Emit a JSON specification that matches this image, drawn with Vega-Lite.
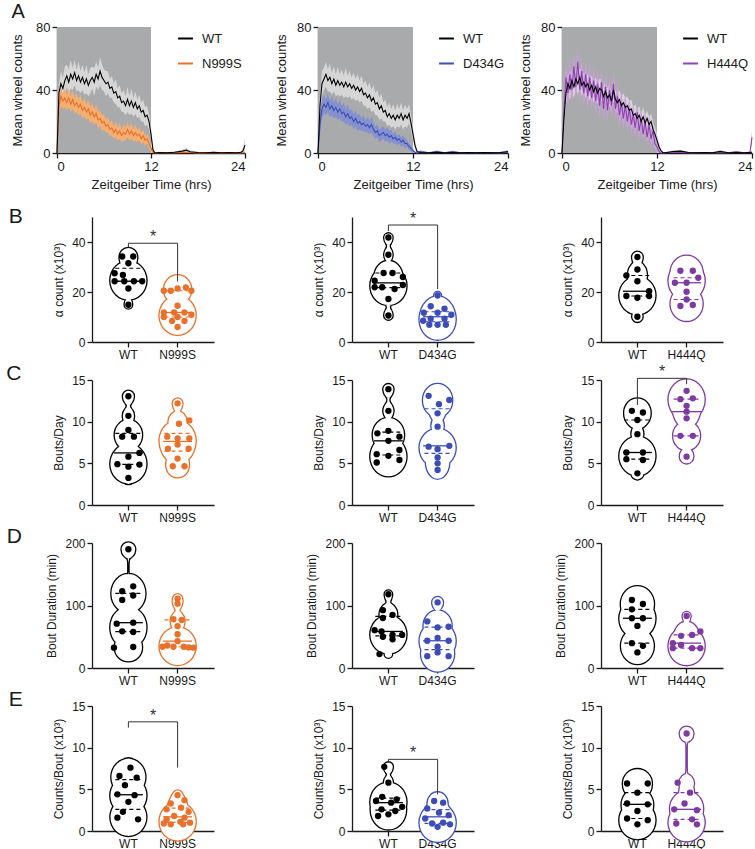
{
"$schema": "https://vega.github.io/schema/vega-lite/v6.json",
"padding": {"left": 6, "top": 2, "right": 0, "bottom": 0},
"config": {
 "font": "Liberation Sans",
 "view": {"stroke": null},
 "axis": {"grid": false, "labelOverlap": false, "domainColor": "#1a1a1a", "tickColor": "#1a1a1a", "labelColor": "#1a1a1a", "titleColor": "#1a1a1a", "domainWidth": 1.3, "tickWidth": 1.3, "tickSize": 5, "labelFontSize": 12, "titleFontSize": 12, "titleFontWeight": "normal", "labelPadding": 2, "titlePadding": 6},
 "axisX": {"labelAngle": 0},
 "title": {"fontSize": 21, "fontWeight": "normal", "color": "#1a1a1a"}
},
"datasets": {
 "ts": [
  {"p":"A1","g":"WT","t":0,"m":0,"e":0},{"p":"A1","g":"WT","t":0.25,"m":38,"e":6},{"p":"A1","g":"WT","t":0.5,"m":44,"e":8},{"p":"A1","g":"WT","t":0.75,"m":41,"e":7},{"p":"A1","g":"WT","t":1,"m":46,"e":9},{"p":"A1","g":"WT","t":1.25,"m":49,"e":7},{"p":"A1","g":"WT","t":1.5,"m":45,"e":8},{"p":"A1","g":"WT","t":1.75,"m":50,"e":9},{"p":"A1","g":"WT","t":2,"m":47,"e":7},{"p":"A1","g":"WT","t":2.25,"m":51,"e":8},{"p":"A1","g":"WT","t":2.5,"m":46,"e":7},{"p":"A1","g":"WT","t":2.75,"m":49,"e":9},{"p":"A1","g":"WT","t":3,"m":45,"e":7},{"p":"A1","g":"WT","t":3.25,"m":48,"e":8},{"p":"A1","g":"WT","t":3.5,"m":44,"e":7},{"p":"A1","g":"WT","t":3.75,"m":47,"e":9},{"p":"A1","g":"WT","t":4,"m":43,"e":7},{"p":"A1","g":"WT","t":4.25,"m":46,"e":8},{"p":"A1","g":"WT","t":4.5,"m":48,"e":7},{"p":"A1","g":"WT","t":4.75,"m":45,"e":9},{"p":"A1","g":"WT","t":5,"m":50,"e":8},{"p":"A1","g":"WT","t":5.25,"m":47,"e":7},{"p":"A1","g":"WT","t":5.5,"m":52,"e":9},{"p":"A1","g":"WT","t":5.75,"m":48,"e":8},{"p":"A1","g":"WT","t":6,"m":46,"e":7},{"p":"A1","g":"WT","t":6.25,"m":44,"e":8},{"p":"A1","g":"WT","t":6.5,"m":45,"e":7},{"p":"A1","g":"WT","t":6.75,"m":41,"e":6},{"p":"A1","g":"WT","t":7,"m":42,"e":7},{"p":"A1","g":"WT","t":7.25,"m":38,"e":6},{"p":"A1","g":"WT","t":7.5,"m":39,"e":8},{"p":"A1","g":"WT","t":7.75,"m":35,"e":6},{"p":"A1","g":"WT","t":8,"m":36,"e":7},{"p":"A1","g":"WT","t":8.25,"m":32,"e":6},{"p":"A1","g":"WT","t":8.5,"m":33,"e":7},{"p":"A1","g":"WT","t":8.75,"m":30,"e":6},{"p":"A1","g":"WT","t":9,"m":34,"e":8},{"p":"A1","g":"WT","t":9.25,"m":30,"e":6},{"p":"A1","g":"WT","t":9.5,"m":33,"e":8},{"p":"A1","g":"WT","t":9.75,"m":29,"e":6},{"p":"A1","g":"WT","t":10,"m":32,"e":7},{"p":"A1","g":"WT","t":10.25,"m":28,"e":6},{"p":"A1","g":"WT","t":10.5,"m":30,"e":7},{"p":"A1","g":"WT","t":10.75,"m":26,"e":6},{"p":"A1","g":"WT","t":11,"m":27,"e":7},{"p":"A1","g":"WT","t":11.25,"m":23,"e":6},{"p":"A1","g":"WT","t":11.5,"m":24,"e":6},{"p":"A1","g":"WT","t":11.75,"m":20,"e":5},{"p":"A1","g":"WT","t":12,"m":12,"e":4},{"p":"A1","g":"WT","t":12.25,"m":2,"e":2},{"p":"A1","g":"WT","t":12.5,"m":0,"e":0.5},{"p":"A1","g":"WT","t":13,"m":0.3,"e":0.5},{"p":"A1","g":"WT","t":14,"m":0.2,"e":0.4},{"p":"A1","g":"WT","t":15,"m":0.5,"e":0.6},{"p":"A1","g":"WT","t":16,"m":1.2,"e":1},{"p":"A1","g":"WT","t":16.5,"m":1.8,"e":1.5},{"p":"A1","g":"WT","t":17,"m":0.8,"e":1},{"p":"A1","g":"WT","t":18,"m":0.3,"e":0.4},{"p":"A1","g":"WT","t":19,"m":0.2,"e":0.3},{"p":"A1","g":"WT","t":20,"m":0.4,"e":0.5},{"p":"A1","g":"WT","t":21,"m":0.2,"e":0.3},{"p":"A1","g":"WT","t":22,"m":0.3,"e":0.4},{"p":"A1","g":"WT","t":23,"m":0.2,"e":0.3},{"p":"A1","g":"WT","t":23.5,"m":0.5,"e":0.6},{"p":"A1","g":"WT","t":23.75,"m":1.5,"e":2},{"p":"A1","g":"WT","t":24,"m":5,"e":5},
  {"p":"A1","g":"N999S","t":0,"m":0,"e":0},{"p":"A1","g":"N999S","t":0.25,"m":30,"e":5},{"p":"A1","g":"N999S","t":0.5,"m":36,"e":6},{"p":"A1","g":"N999S","t":0.75,"m":33,"e":5},{"p":"A1","g":"N999S","t":1,"m":35,"e":6},{"p":"A1","g":"N999S","t":1.25,"m":32,"e":5},{"p":"A1","g":"N999S","t":1.5,"m":35,"e":6},{"p":"A1","g":"N999S","t":1.75,"m":31,"e":5},{"p":"A1","g":"N999S","t":2,"m":34,"e":6},{"p":"A1","g":"N999S","t":2.25,"m":30,"e":5},{"p":"A1","g":"N999S","t":2.5,"m":32,"e":6},{"p":"A1","g":"N999S","t":2.75,"m":29,"e":5},{"p":"A1","g":"N999S","t":3,"m":31,"e":6},{"p":"A1","g":"N999S","t":3.25,"m":27,"e":5},{"p":"A1","g":"N999S","t":3.5,"m":29,"e":6},{"p":"A1","g":"N999S","t":3.75,"m":26,"e":5},{"p":"A1","g":"N999S","t":4,"m":28,"e":6},{"p":"A1","g":"N999S","t":4.25,"m":24,"e":5},{"p":"A1","g":"N999S","t":4.5,"m":26,"e":6},{"p":"A1","g":"N999S","t":4.75,"m":23,"e":5},{"p":"A1","g":"N999S","t":5,"m":25,"e":6},{"p":"A1","g":"N999S","t":5.25,"m":21,"e":5},{"p":"A1","g":"N999S","t":5.5,"m":22,"e":5},{"p":"A1","g":"N999S","t":5.75,"m":19,"e":5},{"p":"A1","g":"N999S","t":6,"m":20,"e":5},{"p":"A1","g":"N999S","t":6.25,"m":17,"e":4},{"p":"A1","g":"N999S","t":6.5,"m":18,"e":5},{"p":"A1","g":"N999S","t":6.75,"m":15,"e":4},{"p":"A1","g":"N999S","t":7,"m":16,"e":5},{"p":"A1","g":"N999S","t":7.25,"m":13,"e":4},{"p":"A1","g":"N999S","t":7.5,"m":15,"e":5},{"p":"A1","g":"N999S","t":7.75,"m":12,"e":4},{"p":"A1","g":"N999S","t":8,"m":14,"e":5},{"p":"A1","g":"N999S","t":8.25,"m":11,"e":4},{"p":"A1","g":"N999S","t":8.5,"m":13,"e":5},{"p":"A1","g":"N999S","t":8.75,"m":12,"e":4},{"p":"A1","g":"N999S","t":9,"m":15,"e":5},{"p":"A1","g":"N999S","t":9.25,"m":12,"e":4},{"p":"A1","g":"N999S","t":9.5,"m":14,"e":5},{"p":"A1","g":"N999S","t":9.75,"m":11,"e":4},{"p":"A1","g":"N999S","t":10,"m":13,"e":5},{"p":"A1","g":"N999S","t":10.25,"m":11,"e":4},{"p":"A1","g":"N999S","t":10.5,"m":12,"e":4},{"p":"A1","g":"N999S","t":10.75,"m":9,"e":4},{"p":"A1","g":"N999S","t":11,"m":11,"e":4},{"p":"A1","g":"N999S","t":11.25,"m":8,"e":3},{"p":"A1","g":"N999S","t":11.5,"m":9,"e":3},{"p":"A1","g":"N999S","t":11.75,"m":6,"e":3},{"p":"A1","g":"N999S","t":12,"m":3,"e":2},{"p":"A1","g":"N999S","t":12.25,"m":0.5,"e":0.5},{"p":"A1","g":"N999S","t":12.5,"m":0,"e":0.3},{"p":"A1","g":"N999S","t":13,"m":0.2,"e":0.3},{"p":"A1","g":"N999S","t":14,"m":0.3,"e":0.3},{"p":"A1","g":"N999S","t":15,"m":0.2,"e":0.3},{"p":"A1","g":"N999S","t":16,"m":0.4,"e":0.5},{"p":"A1","g":"N999S","t":17,"m":0.3,"e":0.4},{"p":"A1","g":"N999S","t":18,"m":0.1,"e":0.2},{"p":"A1","g":"N999S","t":19,"m":0.2,"e":0.2},{"p":"A1","g":"N999S","t":20,"m":0.1,"e":0.2},{"p":"A1","g":"N999S","t":21,"m":0.1,"e":0.2},{"p":"A1","g":"N999S","t":22,"m":0.2,"e":0.2},{"p":"A1","g":"N999S","t":23,"m":0.1,"e":0.2},{"p":"A1","g":"N999S","t":24,"m":0.2,"e":0.3},
  {"p":"A2","g":"WT","t":0,"m":0,"e":0},{"p":"A2","g":"WT","t":0.25,"m":30,"e":6},{"p":"A2","g":"WT","t":0.5,"m":44,"e":8},{"p":"A2","g":"WT","t":0.75,"m":47,"e":7},{"p":"A2","g":"WT","t":1,"m":50,"e":8},{"p":"A2","g":"WT","t":1.25,"m":46,"e":7},{"p":"A2","g":"WT","t":1.5,"m":48,"e":9},{"p":"A2","g":"WT","t":1.75,"m":44,"e":7},{"p":"A2","g":"WT","t":2,"m":47,"e":8},{"p":"A2","g":"WT","t":2.25,"m":43,"e":7},{"p":"A2","g":"WT","t":2.5,"m":46,"e":9},{"p":"A2","g":"WT","t":2.75,"m":43,"e":7},{"p":"A2","g":"WT","t":3,"m":45,"e":8},{"p":"A2","g":"WT","t":3.25,"m":42,"e":7},{"p":"A2","g":"WT","t":3.5,"m":45,"e":9},{"p":"A2","g":"WT","t":3.75,"m":42,"e":7},{"p":"A2","g":"WT","t":4,"m":44,"e":8},{"p":"A2","g":"WT","t":4.25,"m":41,"e":7},{"p":"A2","g":"WT","t":4.5,"m":43,"e":8},{"p":"A2","g":"WT","t":4.75,"m":40,"e":7},{"p":"A2","g":"WT","t":5,"m":42,"e":8},{"p":"A2","g":"WT","t":5.25,"m":39,"e":7},{"p":"A2","g":"WT","t":5.5,"m":41,"e":8},{"p":"A2","g":"WT","t":5.75,"m":37,"e":7},{"p":"A2","g":"WT","t":6,"m":38,"e":8},{"p":"A2","g":"WT","t":6.25,"m":35,"e":7},{"p":"A2","g":"WT","t":6.5,"m":37,"e":8},{"p":"A2","g":"WT","t":6.75,"m":33,"e":7},{"p":"A2","g":"WT","t":7,"m":35,"e":8},{"p":"A2","g":"WT","t":7.25,"m":31,"e":7},{"p":"A2","g":"WT","t":7.5,"m":32,"e":8},{"p":"A2","g":"WT","t":7.75,"m":28,"e":7},{"p":"A2","g":"WT","t":8,"m":30,"e":8},{"p":"A2","g":"WT","t":8.25,"m":26,"e":6},{"p":"A2","g":"WT","t":8.5,"m":27,"e":7},{"p":"A2","g":"WT","t":8.75,"m":23,"e":6},{"p":"A2","g":"WT","t":9,"m":25,"e":7},{"p":"A2","g":"WT","t":9.25,"m":22,"e":6},{"p":"A2","g":"WT","t":9.5,"m":24,"e":7},{"p":"A2","g":"WT","t":9.75,"m":21,"e":6},{"p":"A2","g":"WT","t":10,"m":24,"e":7},{"p":"A2","g":"WT","t":10.25,"m":22,"e":6},{"p":"A2","g":"WT","t":10.5,"m":25,"e":7},{"p":"A2","g":"WT","t":10.75,"m":21,"e":6},{"p":"A2","g":"WT","t":11,"m":24,"e":7},{"p":"A2","g":"WT","t":11.25,"m":22,"e":6},{"p":"A2","g":"WT","t":11.5,"m":25,"e":6},{"p":"A2","g":"WT","t":11.75,"m":19,"e":5},{"p":"A2","g":"WT","t":12,"m":12,"e":4},{"p":"A2","g":"WT","t":12.25,"m":5,"e":3},{"p":"A2","g":"WT","t":12.5,"m":1,"e":1},{"p":"A2","g":"WT","t":13,"m":0.3,"e":0.4},{"p":"A2","g":"WT","t":14,"m":0.2,"e":0.3},{"p":"A2","g":"WT","t":15,"m":0.4,"e":0.4},{"p":"A2","g":"WT","t":16,"m":0.2,"e":0.3},{"p":"A2","g":"WT","t":17,"m":0.3,"e":0.4},{"p":"A2","g":"WT","t":18,"m":0.2,"e":0.3},{"p":"A2","g":"WT","t":19,"m":0.3,"e":0.3},{"p":"A2","g":"WT","t":20,"m":0.2,"e":0.3},{"p":"A2","g":"WT","t":21,"m":0.3,"e":0.3},{"p":"A2","g":"WT","t":22,"m":0.2,"e":0.3},{"p":"A2","g":"WT","t":23,"m":0.3,"e":0.3},{"p":"A2","g":"WT","t":24,"m":1,"e":1},
  {"p":"A2","g":"D434G","t":0,"m":0,"e":0},{"p":"A2","g":"D434G","t":0.25,"m":18,"e":5},{"p":"A2","g":"D434G","t":0.5,"m":28,"e":6},{"p":"A2","g":"D434G","t":0.75,"m":31,"e":6},{"p":"A2","g":"D434G","t":1,"m":29,"e":5},{"p":"A2","g":"D434G","t":1.25,"m":32,"e":6},{"p":"A2","g":"D434G","t":1.5,"m":28,"e":5},{"p":"A2","g":"D434G","t":1.75,"m":30,"e":6},{"p":"A2","g":"D434G","t":2,"m":27,"e":5},{"p":"A2","g":"D434G","t":2.25,"m":29,"e":6},{"p":"A2","g":"D434G","t":2.5,"m":26,"e":5},{"p":"A2","g":"D434G","t":2.75,"m":28,"e":6},{"p":"A2","g":"D434G","t":3,"m":25,"e":5},{"p":"A2","g":"D434G","t":3.25,"m":26,"e":6},{"p":"A2","g":"D434G","t":3.5,"m":23,"e":5},{"p":"A2","g":"D434G","t":3.75,"m":25,"e":6},{"p":"A2","g":"D434G","t":4,"m":22,"e":5},{"p":"A2","g":"D434G","t":4.25,"m":23,"e":5},{"p":"A2","g":"D434G","t":4.5,"m":20,"e":5},{"p":"A2","g":"D434G","t":4.75,"m":22,"e":5},{"p":"A2","g":"D434G","t":5,"m":19,"e":5},{"p":"A2","g":"D434G","t":5.25,"m":20,"e":5},{"p":"A2","g":"D434G","t":5.5,"m":18,"e":4},{"p":"A2","g":"D434G","t":5.75,"m":19,"e":5},{"p":"A2","g":"D434G","t":6,"m":17,"e":4},{"p":"A2","g":"D434G","t":6.25,"m":18,"e":5},{"p":"A2","g":"D434G","t":6.5,"m":16,"e":4},{"p":"A2","g":"D434G","t":6.75,"m":18,"e":5},{"p":"A2","g":"D434G","t":7,"m":15,"e":4},{"p":"A2","g":"D434G","t":7.25,"m":13,"e":4},{"p":"A2","g":"D434G","t":7.5,"m":14,"e":4},{"p":"A2","g":"D434G","t":7.75,"m":11,"e":4},{"p":"A2","g":"D434G","t":8,"m":12,"e":4},{"p":"A2","g":"D434G","t":8.25,"m":13,"e":4},{"p":"A2","g":"D434G","t":8.5,"m":11,"e":4},{"p":"A2","g":"D434G","t":8.75,"m":12,"e":4},{"p":"A2","g":"D434G","t":9,"m":10,"e":4},{"p":"A2","g":"D434G","t":9.25,"m":11,"e":4},{"p":"A2","g":"D434G","t":9.5,"m":9,"e":3},{"p":"A2","g":"D434G","t":9.75,"m":10,"e":4},{"p":"A2","g":"D434G","t":10,"m":8,"e":3},{"p":"A2","g":"D434G","t":10.25,"m":9,"e":3},{"p":"A2","g":"D434G","t":10.5,"m":7,"e":3},{"p":"A2","g":"D434G","t":10.75,"m":8,"e":3},{"p":"A2","g":"D434G","t":11,"m":6,"e":3},{"p":"A2","g":"D434G","t":11.25,"m":6,"e":2},{"p":"A2","g":"D434G","t":11.5,"m":4,"e":2},{"p":"A2","g":"D434G","t":11.75,"m":3,"e":2},{"p":"A2","g":"D434G","t":12,"m":1.5,"e":1},{"p":"A2","g":"D434G","t":12.25,"m":0.5,"e":0.5},{"p":"A2","g":"D434G","t":12.5,"m":0,"e":0.3},{"p":"A2","g":"D434G","t":13,"m":0.8,"e":0.8},{"p":"A2","g":"D434G","t":14,"m":0.2,"e":0.3},{"p":"A2","g":"D434G","t":15,"m":0.8,"e":0.8},{"p":"A2","g":"D434G","t":16,"m":0.2,"e":0.3},{"p":"A2","g":"D434G","t":17,"m":0.7,"e":0.7},{"p":"A2","g":"D434G","t":18,"m":0.2,"e":0.3},{"p":"A2","g":"D434G","t":19,"m":0.2,"e":0.3},{"p":"A2","g":"D434G","t":20,"m":0.3,"e":0.3},{"p":"A2","g":"D434G","t":21,"m":0.2,"e":0.3},{"p":"A2","g":"D434G","t":22,"m":0.3,"e":0.3},{"p":"A2","g":"D434G","t":23,"m":0.2,"e":0.3},{"p":"A2","g":"D434G","t":24,"m":0.3,"e":0.3},
  {"p":"A3","g":"WT","t":0,"m":0,"e":0},{"p":"A3","g":"WT","t":0.25,"m":22,"e":6},{"p":"A3","g":"WT","t":0.5,"m":38,"e":7},{"p":"A3","g":"WT","t":0.75,"m":44,"e":6},{"p":"A3","g":"WT","t":1,"m":41,"e":7},{"p":"A3","g":"WT","t":1.25,"m":46,"e":6},{"p":"A3","g":"WT","t":1.5,"m":42,"e":7},{"p":"A3","g":"WT","t":1.75,"m":47,"e":6},{"p":"A3","g":"WT","t":2,"m":44,"e":7},{"p":"A3","g":"WT","t":2.25,"m":48,"e":6},{"p":"A3","g":"WT","t":2.5,"m":43,"e":7},{"p":"A3","g":"WT","t":2.75,"m":45,"e":6},{"p":"A3","g":"WT","t":3,"m":42,"e":7},{"p":"A3","g":"WT","t":3.25,"m":44,"e":6},{"p":"A3","g":"WT","t":3.5,"m":40,"e":7},{"p":"A3","g":"WT","t":3.75,"m":43,"e":6},{"p":"A3","g":"WT","t":4,"m":39,"e":7},{"p":"A3","g":"WT","t":4.25,"m":42,"e":6},{"p":"A3","g":"WT","t":4.5,"m":38,"e":7},{"p":"A3","g":"WT","t":4.75,"m":41,"e":6},{"p":"A3","g":"WT","t":5,"m":40,"e":7},{"p":"A3","g":"WT","t":5.25,"m":36,"e":6},{"p":"A3","g":"WT","t":5.5,"m":39,"e":7},{"p":"A3","g":"WT","t":5.75,"m":35,"e":6},{"p":"A3","g":"WT","t":6,"m":37,"e":7},{"p":"A3","g":"WT","t":6.25,"m":33,"e":6},{"p":"A3","g":"WT","t":6.5,"m":40,"e":7},{"p":"A3","g":"WT","t":6.75,"m":34,"e":6},{"p":"A3","g":"WT","t":7,"m":32,"e":6},{"p":"A3","g":"WT","t":7.25,"m":34,"e":6},{"p":"A3","g":"WT","t":7.5,"m":30,"e":6},{"p":"A3","g":"WT","t":7.75,"m":32,"e":6},{"p":"A3","g":"WT","t":8,"m":29,"e":6},{"p":"A3","g":"WT","t":8.25,"m":30,"e":6},{"p":"A3","g":"WT","t":8.5,"m":27,"e":6},{"p":"A3","g":"WT","t":8.75,"m":28,"e":6},{"p":"A3","g":"WT","t":9,"m":24,"e":5},{"p":"A3","g":"WT","t":9.25,"m":25,"e":6},{"p":"A3","g":"WT","t":9.5,"m":22,"e":5},{"p":"A3","g":"WT","t":9.75,"m":24,"e":6},{"p":"A3","g":"WT","t":10,"m":20,"e":5},{"p":"A3","g":"WT","t":10.25,"m":23,"e":6},{"p":"A3","g":"WT","t":10.5,"m":19,"e":5},{"p":"A3","g":"WT","t":10.75,"m":22,"e":5},{"p":"A3","g":"WT","t":11,"m":18,"e":5},{"p":"A3","g":"WT","t":11.25,"m":20,"e":5},{"p":"A3","g":"WT","t":11.5,"m":15,"e":5},{"p":"A3","g":"WT","t":11.75,"m":12,"e":4},{"p":"A3","g":"WT","t":12,"m":8,"e":4},{"p":"A3","g":"WT","t":12.25,"m":4,"e":3},{"p":"A3","g":"WT","t":12.5,"m":1.5,"e":1.5},{"p":"A3","g":"WT","t":12.75,"m":0.3,"e":0.5},{"p":"A3","g":"WT","t":13,"m":0.2,"e":0.3},{"p":"A3","g":"WT","t":14,"m":1,"e":0.8},{"p":"A3","g":"WT","t":15,"m":1.2,"e":0.9},{"p":"A3","g":"WT","t":16,"m":0.3,"e":0.3},{"p":"A3","g":"WT","t":17,"m":0.2,"e":0.3},{"p":"A3","g":"WT","t":18,"m":0.3,"e":0.3},{"p":"A3","g":"WT","t":19,"m":0.2,"e":0.3},{"p":"A3","g":"WT","t":20,"m":1,"e":0.8},{"p":"A3","g":"WT","t":21,"m":0.2,"e":0.3},{"p":"A3","g":"WT","t":22,"m":0.3,"e":0.3},{"p":"A3","g":"WT","t":23,"m":0.2,"e":0.3},{"p":"A3","g":"WT","t":24,"m":0.5,"e":0.5},
  {"p":"A3","g":"H444Q","t":0,"m":0,"e":0},{"p":"A3","g":"H444Q","t":0.25,"m":28,"e":8},{"p":"A3","g":"H444Q","t":0.5,"m":48,"e":9},{"p":"A3","g":"H444Q","t":0.75,"m":38,"e":8},{"p":"A3","g":"H444Q","t":1,"m":50,"e":9},{"p":"A3","g":"H444Q","t":1.25,"m":40,"e":8},{"p":"A3","g":"H444Q","t":1.5,"m":55,"e":9},{"p":"A3","g":"H444Q","t":1.75,"m":42,"e":8},{"p":"A3","g":"H444Q","t":2,"m":58,"e":9},{"p":"A3","g":"H444Q","t":2.25,"m":40,"e":8},{"p":"A3","g":"H444Q","t":2.5,"m":52,"e":9},{"p":"A3","g":"H444Q","t":2.75,"m":38,"e":8},{"p":"A3","g":"H444Q","t":3,"m":50,"e":9},{"p":"A3","g":"H444Q","t":3.25,"m":36,"e":8},{"p":"A3","g":"H444Q","t":3.5,"m":48,"e":9},{"p":"A3","g":"H444Q","t":3.75,"m":35,"e":8},{"p":"A3","g":"H444Q","t":4,"m":46,"e":9},{"p":"A3","g":"H444Q","t":4.25,"m":33,"e":8},{"p":"A3","g":"H444Q","t":4.5,"m":44,"e":9},{"p":"A3","g":"H444Q","t":4.75,"m":30,"e":8},{"p":"A3","g":"H444Q","t":5,"m":45,"e":9},{"p":"A3","g":"H444Q","t":5.25,"m":28,"e":8},{"p":"A3","g":"H444Q","t":5.5,"m":42,"e":9},{"p":"A3","g":"H444Q","t":5.75,"m":27,"e":8},{"p":"A3","g":"H444Q","t":6,"m":40,"e":8},{"p":"A3","g":"H444Q","t":6.25,"m":30,"e":8},{"p":"A3","g":"H444Q","t":6.5,"m":44,"e":8},{"p":"A3","g":"H444Q","t":6.75,"m":28,"e":7},{"p":"A3","g":"H444Q","t":7,"m":36,"e":8},{"p":"A3","g":"H444Q","t":7.25,"m":24,"e":7},{"p":"A3","g":"H444Q","t":7.5,"m":32,"e":8},{"p":"A3","g":"H444Q","t":7.75,"m":22,"e":7},{"p":"A3","g":"H444Q","t":8,"m":30,"e":7},{"p":"A3","g":"H444Q","t":8.25,"m":20,"e":7},{"p":"A3","g":"H444Q","t":8.5,"m":28,"e":7},{"p":"A3","g":"H444Q","t":8.75,"m":18,"e":6},{"p":"A3","g":"H444Q","t":9,"m":24,"e":7},{"p":"A3","g":"H444Q","t":9.25,"m":16,"e":6},{"p":"A3","g":"H444Q","t":9.5,"m":26,"e":7},{"p":"A3","g":"H444Q","t":9.75,"m":14,"e":6},{"p":"A3","g":"H444Q","t":10,"m":22,"e":6},{"p":"A3","g":"H444Q","t":10.25,"m":12,"e":5},{"p":"A3","g":"H444Q","t":10.5,"m":20,"e":6},{"p":"A3","g":"H444Q","t":10.75,"m":10,"e":5},{"p":"A3","g":"H444Q","t":11,"m":18,"e":6},{"p":"A3","g":"H444Q","t":11.25,"m":9,"e":5},{"p":"A3","g":"H444Q","t":11.5,"m":14,"e":5},{"p":"A3","g":"H444Q","t":11.75,"m":6,"e":4},{"p":"A3","g":"H444Q","t":12,"m":4,"e":3},{"p":"A3","g":"H444Q","t":12.25,"m":1,"e":1},{"p":"A3","g":"H444Q","t":12.5,"m":0,"e":0.3},{"p":"A3","g":"H444Q","t":13,"m":0.2,"e":0.3},{"p":"A3","g":"H444Q","t":14,"m":0.5,"e":0.5},{"p":"A3","g":"H444Q","t":15,"m":0.3,"e":0.3},{"p":"A3","g":"H444Q","t":16,"m":0.2,"e":0.3},{"p":"A3","g":"H444Q","t":17,"m":0.3,"e":0.3},{"p":"A3","g":"H444Q","t":18,"m":0.2,"e":0.3},{"p":"A3","g":"H444Q","t":19,"m":0.2,"e":0.3},{"p":"A3","g":"H444Q","t":20,"m":0.3,"e":0.3},{"p":"A3","g":"H444Q","t":21,"m":0.2,"e":0.3},{"p":"A3","g":"H444Q","t":22,"m":0.7,"e":0.6},{"p":"A3","g":"H444Q","t":23,"m":0.2,"e":0.3},{"p":"A3","g":"H444Q","t":23.75,"m":0.5,"e":0.5},{"p":"A3","g":"H444Q","t":24,"m":10,"e":4}
 ],
 "vio": [
  {"p":"B1","g":"WT","v":34.2,"j":-0.9},{"p":"B1","g":"WT","v":34.2,"j":0.7},{"p":"B1","g":"WT","v":31.5,"j":0},{"p":"B1","g":"WT","v":27.5,"j":-2},{"p":"B1","g":"WT","v":26.8,"j":-0.8},{"p":"B1","g":"WT","v":24.3,"j":-2},{"p":"B1","g":"WT","v":24.3,"j":-0.6},{"p":"B1","g":"WT","v":24.3,"j":0.8},{"p":"B1","g":"WT","v":24.3,"j":2},{"p":"B1","g":"WT","v":21.4,"j":0},{"p":"B1","g":"WT","v":14.9,"j":0},
  {"p":"B1","g":"N999S","v":21.8,"j":1.2},{"p":"B1","g":"N999S","v":21.4,"j":0},{"p":"B1","g":"N999S","v":20.5,"j":-2},{"p":"B1","g":"N999S","v":20.5,"j":-1},{"p":"B1","g":"N999S","v":20.5,"j":2},{"p":"B1","g":"N999S","v":14.5,"j":0},{"p":"B1","g":"N999S","v":11.8,"j":-2},{"p":"B1","g":"N999S","v":11.8,"j":-0.5},{"p":"B1","g":"N999S","v":11.8,"j":1},{"p":"B1","g":"N999S","v":10.9,"j":2},{"p":"B1","g":"N999S","v":10,"j":-2},{"p":"B1","g":"N999S","v":10,"j":0},{"p":"B1","g":"N999S","v":8.4,"j":-0.8},{"p":"B1","g":"N999S","v":8.4,"j":1},{"p":"B1","g":"N999S","v":6,"j":0},
  {"p":"B2","g":"WT","v":41.8,"j":0},{"p":"B2","g":"WT","v":34.9,"j":0},{"p":"B2","g":"WT","v":27.6,"j":-0.7},{"p":"B2","g":"WT","v":27.6,"j":0.6},{"p":"B2","g":"WT","v":26,"j":2.1},{"p":"B2","g":"WT","v":24.5,"j":-2},{"p":"B2","g":"WT","v":22.8,"j":2.1},{"p":"B2","g":"WT","v":21.9,"j":-2},{"p":"B2","g":"WT","v":21.9,"j":-0.9},{"p":"B2","g":"WT","v":21.2,"j":0.9},{"p":"B2","g":"WT","v":17.2,"j":0},{"p":"B2","g":"WT","v":10.6,"j":0},
  {"p":"B2","g":"D434G","v":18.6,"j":0},{"p":"B2","g":"D434G","v":14.3,"j":-1},{"p":"B2","g":"D434G","v":13.3,"j":1},{"p":"B2","g":"D434G","v":11.7,"j":-2},{"p":"B2","g":"D434G","v":11.7,"j":0},{"p":"B2","g":"D434G","v":10.9,"j":2},{"p":"B2","g":"D434G","v":9.3,"j":-1},{"p":"B2","g":"D434G","v":9.3,"j":1},{"p":"B2","g":"D434G","v":8.5,"j":-2.1},{"p":"B2","g":"D434G","v":6.9,"j":-1.2},{"p":"B2","g":"D434G","v":6.9,"j":0},{"p":"B2","g":"D434G","v":6.9,"j":1.2},
  {"p":"B3","g":"WT","v":34,"j":0},{"p":"B3","g":"WT","v":29,"j":0},{"p":"B3","g":"WT","v":26.6,"j":-1.6},{"p":"B3","g":"WT","v":24.3,"j":0},{"p":"B3","g":"WT","v":20.3,"j":1.7},{"p":"B3","g":"WT","v":18.4,"j":-1.6},{"p":"B3","g":"WT","v":17.7,"j":0},{"p":"B3","g":"WT","v":18.4,"j":1.7},{"p":"B3","g":"WT","v":10.1,"j":0},
  {"p":"B3","g":"H444Q","v":28.5,"j":-0.9},{"p":"B3","g":"H444Q","v":28.5,"j":0.9},{"p":"B3","g":"H444Q","v":25.7,"j":1.7},{"p":"B3","g":"H444Q","v":23.7,"j":-1.7},{"p":"B3","g":"H444Q","v":23.7,"j":0},{"p":"B3","g":"H444Q","v":20.1,"j":0},{"p":"B3","g":"H444Q","v":17,"j":0},{"p":"B3","g":"H444Q","v":14.4,"j":-0.9},{"p":"B3","g":"H444Q","v":14.8,"j":0.9},
  {"p":"C1","g":"WT","v":13.05,"j":0},{"p":"C1","g":"WT","v":10.7,"j":0},{"p":"C1","g":"WT","v":9,"j":0},{"p":"C1","g":"WT","v":8.2,"j":-0.9},{"p":"C1","g":"WT","v":8.2,"j":0.8},{"p":"C1","g":"WT","v":6.25,"j":1.6},{"p":"C1","g":"WT","v":5.8,"j":0},{"p":"C1","g":"WT","v":4.9,"j":-1.6},{"p":"C1","g":"WT","v":4.85,"j":1.6},{"p":"C1","g":"WT","v":4.6,"j":0},{"p":"C1","g":"WT","v":3.25,"j":0},
  {"p":"C1","g":"N999S","v":12.2,"j":0},{"p":"C1","g":"N999S","v":10.15,"j":1.7},{"p":"C1","g":"N999S","v":9.75,"j":0.2},{"p":"C1","g":"N999S","v":8.2,"j":-1.5},{"p":"C1","g":"N999S","v":8,"j":0},{"p":"C1","g":"N999S","v":8,"j":1.7},{"p":"C1","g":"N999S","v":7.25,"j":0},{"p":"C1","g":"N999S","v":6.75,"j":-1.4},{"p":"C1","g":"N999S","v":6.75,"j":1.6},{"p":"C1","g":"N999S","v":5.57,"j":0},{"p":"C1","g":"N999S","v":4.65,"j":-0.7},{"p":"C1","g":"N999S","v":4.65,"j":1},
  {"p":"C2","g":"WT","v":13.9,"j":0},{"p":"C2","g":"WT","v":11.3,"j":0},{"p":"C2","g":"WT","v":8.9,"j":0},{"p":"C2","g":"WT","v":8.6,"j":-1.6},{"p":"C2","g":"WT","v":8.2,"j":1.6},{"p":"C2","g":"WT","v":7.7,"j":0},{"p":"C2","g":"WT","v":6.6,"j":1.6},{"p":"C2","g":"WT","v":6.1,"j":-1.7},{"p":"C2","g":"WT","v":5.9,"j":0},{"p":"C2","g":"WT","v":5.4,"j":1.6},{"p":"C2","g":"WT","v":5.1,"j":-1.7},
  {"p":"C2","g":"D434G","v":13.1,"j":-1.3},{"p":"C2","g":"D434G","v":12.6,"j":1.7},{"p":"C2","g":"D434G","v":12.1,"j":0.2},{"p":"C2","g":"D434G","v":11,"j":0},{"p":"C2","g":"D434G","v":9.4,"j":0},{"p":"C2","g":"D434G","v":7.1,"j":1.7},{"p":"C2","g":"D434G","v":7,"j":-1.3},{"p":"C2","g":"D434G","v":6.7,"j":0},{"p":"C2","g":"D434G","v":5.7,"j":0},{"p":"C2","g":"D434G","v":5,"j":0},{"p":"C2","g":"D434G","v":4.2,"j":0},
  {"p":"C3","g":"WT","v":11.3,"j":-0.8},{"p":"C3","g":"WT","v":11.1,"j":0.8},{"p":"C3","g":"WT","v":10.2,"j":0},{"p":"C3","g":"WT","v":8.5,"j":0},{"p":"C3","g":"WT","v":6.3,"j":-1.6},{"p":"C3","g":"WT","v":6.3,"j":0.8},{"p":"C3","g":"WT","v":5.5,"j":-1.6},{"p":"C3","g":"WT","v":5.4,"j":0.8},{"p":"C3","g":"WT","v":3.8,"j":0},
  {"p":"C3","g":"H444Q","v":13.7,"j":0},{"p":"C3","g":"H444Q","v":12.7,"j":-0.9},{"p":"C3","g":"H444Q","v":12.8,"j":0.9},{"p":"C3","g":"H444Q","v":11.9,"j":0},{"p":"C3","g":"H444Q","v":11.2,"j":0},{"p":"C3","g":"H444Q","v":10.4,"j":0},{"p":"C3","g":"H444Q","v":8.3,"j":-0.9},{"p":"C3","g":"H444Q","v":8.3,"j":0.9},{"p":"C3","g":"H444Q","v":5.8,"j":0},
  {"p":"D1","g":"WT","v":190,"j":0},{"p":"D1","g":"WT","v":130.7,"j":0.7},{"p":"D1","g":"WT","v":123,"j":-0.9},{"p":"D1","g":"WT","v":116,"j":0.7},{"p":"D1","g":"WT","v":109,"j":-0.9},{"p":"D1","g":"WT","v":72.5,"j":0.7},{"p":"D1","g":"WT","v":71,"j":-1.7},{"p":"D1","g":"WT","v":58.7,"j":-0.9},{"p":"D1","g":"WT","v":57.6,"j":0.7},{"p":"D1","g":"WT","v":33.6,"j":0.7},{"p":"D1","g":"WT","v":32.5,"j":-2.1},
  {"p":"D1","g":"N999S","v":111,"j":0},{"p":"D1","g":"N999S","v":103,"j":0},{"p":"D1","g":"N999S","v":78,"j":-0.6},{"p":"D1","g":"N999S","v":77,"j":0.6},{"p":"D1","g":"N999S","v":67,"j":0},{"p":"D1","g":"N999S","v":54,"j":0},{"p":"D1","g":"N999S","v":43,"j":0},{"p":"D1","g":"N999S","v":36,"j":-1.5},{"p":"D1","g":"N999S","v":34,"j":-2.2},{"p":"D1","g":"N999S","v":34,"j":-0.6},{"p":"D1","g":"N999S","v":34,"j":0.9},{"p":"D1","g":"N999S","v":33,"j":1.6},{"p":"D1","g":"N999S","v":32.5,"j":2.3},
  {"p":"D2","g":"WT","v":118,"j":0},{"p":"D2","g":"WT","v":92.5,"j":-0.8},{"p":"D2","g":"WT","v":85,"j":0.6},{"p":"D2","g":"WT","v":80,"j":-0.8},{"p":"D2","g":"WT","v":60.6,"j":-2},{"p":"D2","g":"WT","v":58.5,"j":-1},{"p":"D2","g":"WT","v":53,"j":0.6},{"p":"D2","g":"WT","v":53,"j":2},{"p":"D2","g":"WT","v":50,"j":-0.8},{"p":"D2","g":"WT","v":46,"j":0.6},{"p":"D2","g":"WT","v":22.3,"j":-1.3},
  {"p":"D2","g":"D434G","v":105,"j":0},{"p":"D2","g":"D434G","v":74.5,"j":-1.5},{"p":"D2","g":"D434G","v":66,"j":1.6},{"p":"D2","g":"D434G","v":65,"j":0},{"p":"D2","g":"D434G","v":48,"j":0},{"p":"D2","g":"D434G","v":43.6,"j":-1.5},{"p":"D2","g":"D434G","v":43.6,"j":1.6},{"p":"D2","g":"D434G","v":34,"j":0},{"p":"D2","g":"D434G","v":25,"j":0},{"p":"D2","g":"D434G","v":19,"j":-1.5},{"p":"D2","g":"D434G","v":19,"j":1.6},
  {"p":"D3","g":"WT","v":108.8,"j":-0.8},{"p":"D3","g":"WT","v":102.4,"j":0.8},{"p":"D3","g":"WT","v":93.9,"j":-0.8},{"p":"D3","g":"WT","v":79.6,"j":-0.8},{"p":"D3","g":"WT","v":79.6,"j":0.8},{"p":"D3","g":"WT","v":67.4,"j":0},{"p":"D3","g":"WT","v":39.8,"j":-0.8},{"p":"D3","g":"WT","v":35.5,"j":0.8},{"p":"D3","g":"WT","v":25,"j":0},
  {"p":"D3","g":"H444Q","v":83.3,"j":0},{"p":"D3","g":"H444Q","v":58.4,"j":2},{"p":"D3","g":"H444Q","v":53,"j":0.8},{"p":"D3","g":"H444Q","v":51.5,"j":-0.8},{"p":"D3","g":"H444Q","v":39.8,"j":-2},{"p":"D3","g":"H444Q","v":37,"j":-0.8},{"p":"D3","g":"H444Q","v":31.8,"j":-2},{"p":"D3","g":"H444Q","v":31.8,"j":0.8},{"p":"D3","g":"H444Q","v":31.8,"j":2},
  {"p":"E1","g":"WT","v":7.6,"j":0.3},{"p":"E1","g":"WT","v":6.6,"j":-1.3},{"p":"E1","g":"WT","v":6.4,"j":1.2},{"p":"E1","g":"WT","v":5.5,"j":-0.5},{"p":"E1","g":"WT","v":4.4,"j":-1.6},{"p":"E1","g":"WT","v":4.3,"j":0.9},{"p":"E1","g":"WT","v":3.5,"j":0},{"p":"E1","g":"WT","v":2.3,"j":-0.8},{"p":"E1","g":"WT","v":1.6,"j":-1.6},{"p":"E1","g":"WT","v":1.4,"j":1.4},
  {"p":"E1","g":"N999S","v":4.3,"j":0},{"p":"E1","g":"N999S","v":3.7,"j":1},{"p":"E1","g":"N999S","v":3.3,"j":-1},{"p":"E1","g":"N999S","v":2.8,"j":0.5},{"p":"E1","g":"N999S","v":2.6,"j":-1.6},{"p":"E1","g":"N999S","v":2.3,"j":1.6},{"p":"E1","g":"N999S","v":1.8,"j":-0.5},{"p":"E1","g":"N999S","v":1.6,"j":1},{"p":"E1","g":"N999S","v":1.4,"j":-1.6},{"p":"E1","g":"N999S","v":1.1,"j":0.4},{"p":"E1","g":"N999S","v":1,"j":1.8},{"p":"E1","g":"N999S","v":0.8,"j":-1},{"p":"E1","g":"N999S","v":0.8,"j":0.8},{"p":"E1","g":"N999S","v":0.9,"j":-2},
  {"p":"E2","g":"WT","v":7.7,"j":-0.6},{"p":"E2","g":"WT","v":5.8,"j":0},{"p":"E2","g":"WT","v":4.1,"j":-0.9},{"p":"E2","g":"WT","v":3.8,"j":1.2},{"p":"E2","g":"WT","v":3.6,"j":-1.8},{"p":"E2","g":"WT","v":3.4,"j":0.4},{"p":"E2","g":"WT","v":2.9,"j":2},{"p":"E2","g":"WT","v":2.6,"j":-1},{"p":"E2","g":"WT","v":2.4,"j":1},{"p":"E2","g":"WT","v":2,"j":0},{"p":"E2","g":"WT","v":1.8,"j":-1.5},
  {"p":"E2","g":"D434G","v":3.6,"j":-0.5},{"p":"E2","g":"D434G","v":3.4,"j":0.8},{"p":"E2","g":"D434G","v":2.7,"j":-1.5},{"p":"E2","g":"D434G","v":2.2,"j":0.2},{"p":"E2","g":"D434G","v":1.9,"j":1.6},{"p":"E2","g":"D434G","v":1.5,"j":-1.8},{"p":"E2","g":"D434G","v":1,"j":0.8},{"p":"E2","g":"D434G","v":0.9,"j":-0.8},{"p":"E2","g":"D434G","v":0.8,"j":1.8},{"p":"E2","g":"D434G","v":0.5,"j":0},
  {"p":"E3","g":"WT","v":5.7,"j":-1.5},{"p":"E3","g":"WT","v":5.7,"j":1.5},{"p":"E3","g":"WT","v":4.6,"j":0},{"p":"E3","g":"WT","v":3.3,"j":-1.5},{"p":"E3","g":"WT","v":3.2,"j":1.5},{"p":"E3","g":"WT","v":2.4,"j":0},{"p":"E3","g":"WT","v":1.5,"j":-1.5},{"p":"E3","g":"WT","v":1.3,"j":1.5},{"p":"E3","g":"WT","v":0.8,"j":0},
  {"p":"E3","g":"H444Q","v":11.7,"j":0},{"p":"E3","g":"H444Q","v":5.8,"j":-1.3},{"p":"E3","g":"H444Q","v":4.6,"j":0.5},{"p":"E3","g":"H444Q","v":3.3,"j":-0.3},{"p":"E3","g":"H444Q","v":2.6,"j":-1.8},{"p":"E3","g":"H444Q","v":2.5,"j":1.5},{"p":"E3","g":"H444Q","v":1.4,"j":0.8},{"p":"E3","g":"H444Q","v":0.9,"j":-1.5},{"p":"E3","g":"H444Q","v":0.8,"j":1.5}
 ],
 "br": [
  {"p":"B1","g":"WT","y":37.8,"o":0},{"p":"B1","g":"WT","y":39.5,"o":1},{"p":"B1","g":"N999S","y":39.5,"o":2},{"p":"B1","g":"N999S","y":24.2,"o":3},
  {"p":"B2","g":"WT","y":44.4,"o":0},{"p":"B2","g":"WT","y":46.8,"o":1},{"p":"B2","g":"D434G","y":46.8,"o":2},{"p":"B2","g":"D434G","y":21.2,"o":3},
  {"p":"C3","g":"WT","y":12,"o":0},{"p":"C3","g":"WT","y":15.2,"o":1},{"p":"C3","g":"H444Q","y":15.2,"o":2},{"p":"C3","g":"H444Q","y":14.5,"o":3},
  {"p":"E1","g":"WT","y":12.4,"o":0},{"p":"E1","g":"WT","y":13.1,"o":1},{"p":"E1","g":"N999S","y":13.1,"o":2},{"p":"E1","g":"N999S","y":7.6,"o":3},
  {"p":"E2","g":"WT","y":8.2,"o":0},{"p":"E2","g":"WT","y":8.6,"o":1},{"p":"E2","g":"D434G","y":8.6,"o":2},{"p":"E2","g":"D434G","y":4.4,"o":3}
 ]
},
"concat": [
 {"width": 188, "height": 152,
  "title": {"text": "A", "anchor": "start", "frame": "bounds", "offset": -1, "fontSize": 20},
  "layer": [
   {"data": {"values": [{"s": 0, "e": 12}]}, "mark": {"type": "rect", "color": "#a9aaac"},
    "encoding": {"x": {"field": "s", "type": "quantitative", "title": "Zeitgeiber Time (hrs)", "scale": {"domain": [0, 24], "nice": false}, "axis": {"values": [0,12,24], "labelFontSize": 13, "titleFontSize": 13, "titlePadding": 5, "offset": -26}}, "x2": {"field": "e"},
     "y": {"datum": 80, "type": "quantitative", "title": "Mean wheel counts", "scale": {"domain": [0, 80], "nice": false, "range": [126, 0], "clamp": true}, "axis": {"values": [0,20,40,60,80], "labelFontSize": 13, "titleFontSize": 13, "titlePadding": 11}}, "y2": {"datum": 0}}},
   {"data": {"name": "ts"}, "transform": [{"filter": "datum.p=='A1' && datum.g=='WT'"}], "mark": {"type": "errorband", "color": "#d6d6d6", "opacity": 1},
    "encoding": {"x": {"field": "t", "type": "quantitative", "title": "Zeitgeiber Time (hrs)"}, "y": {"field": "m", "type": "quantitative", "title": "Mean wheel counts"}, "yError": {"field": "e"}}},
   {"data": {"name": "ts"}, "transform": [{"filter": "datum.p=='A1' && datum.g=='N999S'"}], "mark": {"type": "errorband", "color": "#f5ae72", "opacity": 1},
    "encoding": {"x": {"field": "t", "type": "quantitative", "title": "Zeitgeiber Time (hrs)"}, "y": {"field": "m", "type": "quantitative", "title": "Mean wheel counts"}, "yError": {"field": "e"}}},
   {"data": {"name": "ts"}, "transform": [{"filter": "datum.p=='A1' && datum.g=='N999S'"}], "mark": {"type": "line", "strokeWidth": 1.1},
    "encoding": {"x": {"field": "t", "type": "quantitative", "title": "Zeitgeiber Time (hrs)"}, "y": {"field": "m", "type": "quantitative", "title": "Mean wheel counts"}, "color": {"field": "g", "type": "nominal", "scale": {"domain": ["WT","N999S"], "range": ["#000000","#e8712b"]}, "legend": {"orient": "top-right", "title": null, "symbolType": "stroke", "symbolStrokeWidth": 2, "symbolSize": 220, "labelFontSize": 13, "labelColor": "#1a1a1a", "rowPadding": 9, "offset": 3, "padding": 0, "labelOffset": 8}}}},
   {"data": {"name": "ts"}, "transform": [{"filter": "datum.p=='A1' && datum.g=='WT'"}], "mark": {"type": "line", "strokeWidth": 1.1},
    "encoding": {"x": {"field": "t", "type": "quantitative", "title": "Zeitgeiber Time (hrs)"}, "y": {"field": "m", "type": "quantitative", "title": "Mean wheel counts"}, "color": {"field": "g", "type": "nominal", "scale": {"domain": ["WT","N999S"], "range": ["#000000","#e8712b"]}, "legend": {"orient": "top-right", "title": null, "symbolType": "stroke", "symbolStrokeWidth": 2, "symbolSize": 220, "labelFontSize": 13, "labelColor": "#1a1a1a", "rowPadding": 9, "offset": 3, "padding": 0, "labelOffset": 8}}}}
  ]},
 {"width": 209, "height": 152,
  "layer": [
   {"data": {"values": [{"s": 0, "e": 12}]}, "mark": {"type": "rect", "color": "#a9aaac"},
    "encoding": {"x": {"field": "s", "type": "quantitative", "title": "Zeitgeiber Time (hrs)", "scale": {"domain": [0, 24], "nice": false, "range": [19, 209]}, "axis": {"values": [0,12,24], "labelFontSize": 13, "titleFontSize": 13, "titlePadding": 5, "offset": -26}}, "x2": {"field": "e"},
     "y": {"datum": 80, "type": "quantitative", "title": "Mean wheel counts", "scale": {"domain": [0, 80], "nice": false, "range": [126, 0], "clamp": true}, "axis": {"values": [0,20,40,60,80], "labelFontSize": 13, "titleFontSize": 13, "titlePadding": 8, "offset": -19}}, "y2": {"datum": 0}}},
   {"data": {"name": "ts"}, "transform": [{"filter": "datum.p=='A2' && datum.g=='WT'"}], "mark": {"type": "errorband", "color": "#d6d6d6", "opacity": 1},
    "encoding": {"x": {"field": "t", "type": "quantitative", "title": "Zeitgeiber Time (hrs)"}, "y": {"field": "m", "type": "quantitative", "title": "Mean wheel counts"}, "yError": {"field": "e"}}},
   {"data": {"name": "ts"}, "transform": [{"filter": "datum.p=='A2' && datum.g=='D434G'"}], "mark": {"type": "errorband", "color": "#8590cf", "opacity": 1},
    "encoding": {"x": {"field": "t", "type": "quantitative", "title": "Zeitgeiber Time (hrs)"}, "y": {"field": "m", "type": "quantitative", "title": "Mean wheel counts"}, "yError": {"field": "e"}}},
   {"data": {"name": "ts"}, "transform": [{"filter": "datum.p=='A2' && datum.g=='D434G'"}], "mark": {"type": "line", "strokeWidth": 1.1},
    "encoding": {"x": {"field": "t", "type": "quantitative", "title": "Zeitgeiber Time (hrs)"}, "y": {"field": "m", "type": "quantitative", "title": "Mean wheel counts"}, "color": {"field": "g", "type": "nominal", "scale": {"domain": ["WT","D434G"], "range": ["#000000","#3d4db7"]}, "legend": {"orient": "top-right", "title": null, "symbolType": "stroke", "symbolStrokeWidth": 2, "symbolSize": 220, "labelFontSize": 13, "labelColor": "#1a1a1a", "rowPadding": 9, "offset": 3, "padding": 0, "labelOffset": 8}}}},
   {"data": {"name": "ts"}, "transform": [{"filter": "datum.p=='A2' && datum.g=='WT'"}], "mark": {"type": "line", "strokeWidth": 1.1},
    "encoding": {"x": {"field": "t", "type": "quantitative", "title": "Zeitgeiber Time (hrs)"}, "y": {"field": "m", "type": "quantitative", "title": "Mean wheel counts"}, "color": {"field": "g", "type": "nominal", "scale": {"domain": ["WT","D434G"], "range": ["#000000","#3d4db7"]}, "legend": {"orient": "top-right", "title": null, "symbolType": "stroke", "symbolStrokeWidth": 2, "symbolSize": 220, "labelFontSize": 13, "labelColor": "#1a1a1a", "rowPadding": 9, "offset": 3, "padding": 0, "labelOffset": 8}}}}
  ]},
 {"width": 190, "height": 152,
  "layer": [
   {"data": {"values": [{"s": 0, "e": 12}]}, "mark": {"type": "rect", "color": "#a9aaac"},
    "encoding": {"x": {"field": "s", "type": "quantitative", "title": "Zeitgeiber Time (hrs)", "scale": {"domain": [0, 24], "nice": false}, "axis": {"values": [0,12,24], "labelFontSize": 13, "titleFontSize": 13, "titlePadding": 5, "offset": -26}}, "x2": {"field": "e"},
     "y": {"datum": 80, "type": "quantitative", "title": "Mean wheel counts", "scale": {"domain": [0, 80], "nice": false, "range": [126, 0], "clamp": true}, "axis": {"values": [0,20,40,60,80], "labelFontSize": 13, "titleFontSize": 13, "titlePadding": 8}}, "y2": {"datum": 0}}},
   {"data": {"name": "ts"}, "transform": [{"filter": "datum.p=='A3' && datum.g=='WT'"}], "mark": {"type": "errorband", "color": "#d6d6d6", "opacity": 1},
    "encoding": {"x": {"field": "t", "type": "quantitative", "title": "Zeitgeiber Time (hrs)"}, "y": {"field": "m", "type": "quantitative", "title": "Mean wheel counts"}, "yError": {"field": "e"}}},
   {"data": {"name": "ts"}, "transform": [{"filter": "datum.p=='A3' && datum.g=='H444Q'"}], "mark": {"type": "errorband", "color": "#c99ed9", "opacity": 1},
    "encoding": {"x": {"field": "t", "type": "quantitative", "title": "Zeitgeiber Time (hrs)"}, "y": {"field": "m", "type": "quantitative", "title": "Mean wheel counts"}, "yError": {"field": "e"}}},
   {"data": {"name": "ts"}, "transform": [{"filter": "datum.p=='A3' && datum.g=='H444Q'"}], "mark": {"type": "line", "strokeWidth": 1.1},
    "encoding": {"x": {"field": "t", "type": "quantitative", "title": "Zeitgeiber Time (hrs)"}, "y": {"field": "m", "type": "quantitative", "title": "Mean wheel counts"}, "color": {"field": "g", "type": "nominal", "scale": {"domain": ["WT","H444Q"], "range": ["#000000","#8e44ad"]}, "legend": {"orient": "top-right", "title": null, "symbolType": "stroke", "symbolStrokeWidth": 2, "symbolSize": 220, "labelFontSize": 13, "labelColor": "#1a1a1a", "rowPadding": 9, "offset": 3, "padding": 0, "labelOffset": 8}}}},
   {"data": {"name": "ts"}, "transform": [{"filter": "datum.p=='A3' && datum.g=='WT'"}], "mark": {"type": "line", "strokeWidth": 1.1},
    "encoding": {"x": {"field": "t", "type": "quantitative", "title": "Zeitgeiber Time (hrs)"}, "y": {"field": "m", "type": "quantitative", "title": "Mean wheel counts"}, "color": {"field": "g", "type": "nominal", "scale": {"domain": ["WT","H444Q"], "range": ["#000000","#8e44ad"]}, "legend": {"orient": "top-right", "title": null, "symbolType": "stroke", "symbolStrokeWidth": 2, "symbolSize": 220, "labelFontSize": 13, "labelColor": "#1a1a1a", "rowPadding": 9, "offset": 3, "padding": 0, "labelOffset": 8}}}}
  ]},
 {"width": 188, "height": 125,
  "title": {"text": "B", "orient": "left", "anchor": "end", "angle": 0, "baseline": "middle", "align": "right", "offset": 16},
  "data": {"name": "vio"},
  "encoding": {"x": {"field": "g", "type": "nominal", "title": null, "scale": {"type": "band", "domain": ["WT","N999S"], "range": [35, 157], "paddingInner": 0.3, "paddingOuter": 0.39}, "axis": {"labelAngle": 0}}},
  "layer": [
   {"transform": [{"filter": "datum.p=='B1' && datum.g=='WT'"}, {"density": "v", "groupby": ["g"], "bandwidth": 1.8, "as": ["v","d"]}], "mark": {"type": "trail", "opacity": 1},
    "encoding": {"y": {"field": "v", "type": "quantitative", "title": "α count (x10³)", "scale": {"domain": [0,50], "nice": false}, "axis": {"values": [0,10,20,30,40,50], "offset": -35}}, "size": {"field": "d", "type": "quantitative", "scale": {"zero": true, "range": [2.6,38.6]}, "legend": null}, "color": {"field": "g", "type": "nominal", "scale": {"domain": ["WT","N999S"], "range": ["#000000","#e8712b"]}, "legend": null}, "order": {"field": "v", "type": "quantitative"}}},
   {"transform": [{"filter": "datum.p=='B1' && datum.g=='WT'"}, {"density": "v", "groupby": ["g"], "bandwidth": 1.8, "as": ["v","d"]}], "mark": {"type": "trail", "color": "#ffffff", "opacity": 1},
    "encoding": {"y": {"field": "v", "type": "quantitative", "title": "α count (x10³)"}, "size": {"field": "d", "type": "quantitative", "scale": {"zero": true, "range": [0,36]}, "legend": null}, "order": {"field": "v", "type": "quantitative"}}},
   {"transform": [{"filter": "datum.p=='B1' && datum.g=='N999S'"}, {"density": "v", "groupby": ["g"], "bandwidth": 1.8, "as": ["v","d"]}], "mark": {"type": "trail", "opacity": 1},
    "encoding": {"y": {"field": "v", "type": "quantitative", "title": "α count (x10³)"}, "size": {"field": "d", "type": "quantitative", "scale": {"zero": true, "range": [2.6,38.6]}, "legend": null}, "color": {"field": "g", "type": "nominal", "legend": null}, "order": {"field": "v", "type": "quantitative"}}},
   {"transform": [{"filter": "datum.p=='B1' && datum.g=='N999S'"}, {"density": "v", "groupby": ["g"], "bandwidth": 1.8, "as": ["v","d"]}], "mark": {"type": "trail", "color": "#ffffff", "opacity": 1},
    "encoding": {"y": {"field": "v", "type": "quantitative", "title": "α count (x10³)"}, "size": {"field": "d", "type": "quantitative", "scale": {"zero": true, "range": [0,36]}, "legend": null}, "order": {"field": "v", "type": "quantitative"}}},
   {"transform": [{"filter": "datum.p=='B1'"}, {"aggregate": [{"op": "q1", "field": "v", "as": "a"}, {"op": "q3", "field": "v", "as": "b"}], "groupby": ["g"]}, {"fold": ["a","b"], "as": ["k","v"]}], "mark": {"type": "rule", "strokeWidth": 1.2, "strokeDash": [4,3]},
    "encoding": {"x": {"field": "g", "type": "nominal", "title": null, "bandPosition": 0.12}, "x2": {"field": "g", "bandPosition": 0.88}, "y": {"field": "v", "type": "quantitative", "title": "α count (x10³)"}, "color": {"field": "g", "type": "nominal", "legend": null}}},
   {"transform": [{"filter": "datum.p=='B1'"}, {"aggregate": [{"op": "median", "field": "v", "as": "v"}], "groupby": ["g"]}], "mark": {"type": "rule", "strokeWidth": 1.3},
    "encoding": {"x": {"field": "g", "type": "nominal", "title": null, "bandPosition": 0.08}, "x2": {"field": "g", "bandPosition": 0.92}, "y": {"field": "v", "type": "quantitative", "title": "α count (x10³)"}, "color": {"field": "g", "type": "nominal", "legend": null}}},
   {"transform": [{"filter": "datum.p=='B1'"}], "mark": {"type": "circle", "size": 40, "opacity": 1},
    "encoding": {"y": {"field": "v", "type": "quantitative", "title": "α count (x10³)"}, "xOffset": {"field": "j", "type": "quantitative", "scale": {"domain": [-2.5,2.5], "nice": false, "zero": false}}, "color": {"field": "g", "type": "nominal", "legend": null}}},
   {"data": {"name": "br"}, "transform": [{"filter": "datum.p=='B1'"}], "mark": {"type": "line", "color": "#333333", "strokeWidth": 1},
    "encoding": {"y": {"field": "y", "type": "quantitative", "title": "α count (x10³)"}, "order": {"field": "o", "type": "quantitative"}}},
   {"data": {"name": "br"}, "transform": [{"filter": "datum.p=='B1' && datum.o==1"}], "mark": {"type": "text", "text": "*", "fontSize": 16, "dx": 24.6, "dy": -1, "baseline": "alphabetic", "color": "#333333"},
    "encoding": {"y": {"field": "y", "type": "quantitative", "title": "α count (x10³)"}}}
  ],
  "resolve": {"scale": {"size": "independent"}}},
 {"width": 209, "height": 125,
  "data": {"name": "vio"},
  "encoding": {"x": {"field": "g", "type": "nominal", "title": null, "scale": {"type": "band", "domain": ["WT","D434G"], "range": [53, 175], "paddingInner": 0.3, "paddingOuter": 0.39}, "axis": {"labelAngle": 0}}},
  "layer": [
   {"transform": [{"filter": "datum.p=='B2' && datum.g=='WT'"}, {"density": "v", "groupby": ["g"], "bandwidth": 1.8, "as": ["v","d"]}], "mark": {"type": "trail", "opacity": 1},
    "encoding": {"y": {"field": "v", "type": "quantitative", "title": "α count (x10³)", "scale": {"domain": [0,50], "nice": false}, "axis": {"values": [0,10,20,30,40,50], "offset": -53}}, "size": {"field": "d", "type": "quantitative", "scale": {"zero": true, "range": [2.6,38.6]}, "legend": null}, "color": {"field": "g", "type": "nominal", "scale": {"domain": ["WT","D434G"], "range": ["#000000","#3d4db7"]}, "legend": null}, "order": {"field": "v", "type": "quantitative"}}},
   {"transform": [{"filter": "datum.p=='B2' && datum.g=='WT'"}, {"density": "v", "groupby": ["g"], "bandwidth": 1.8, "as": ["v","d"]}], "mark": {"type": "trail", "color": "#ffffff", "opacity": 1},
    "encoding": {"y": {"field": "v", "type": "quantitative", "title": "α count (x10³)"}, "size": {"field": "d", "type": "quantitative", "scale": {"zero": true, "range": [0,36]}, "legend": null}, "order": {"field": "v", "type": "quantitative"}}},
   {"transform": [{"filter": "datum.p=='B2' && datum.g=='D434G'"}, {"density": "v", "groupby": ["g"], "bandwidth": 1.8, "as": ["v","d"]}], "mark": {"type": "trail", "opacity": 1},
    "encoding": {"y": {"field": "v", "type": "quantitative", "title": "α count (x10³)"}, "size": {"field": "d", "type": "quantitative", "scale": {"zero": true, "range": [2.6,38.6]}, "legend": null}, "color": {"field": "g", "type": "nominal", "legend": null}, "order": {"field": "v", "type": "quantitative"}}},
   {"transform": [{"filter": "datum.p=='B2' && datum.g=='D434G'"}, {"density": "v", "groupby": ["g"], "bandwidth": 1.8, "as": ["v","d"]}], "mark": {"type": "trail", "color": "#ffffff", "opacity": 1},
    "encoding": {"y": {"field": "v", "type": "quantitative", "title": "α count (x10³)"}, "size": {"field": "d", "type": "quantitative", "scale": {"zero": true, "range": [0,36]}, "legend": null}, "order": {"field": "v", "type": "quantitative"}}},
   {"transform": [{"filter": "datum.p=='B2'"}, {"aggregate": [{"op": "q1", "field": "v", "as": "a"}, {"op": "q3", "field": "v", "as": "b"}], "groupby": ["g"]}, {"fold": ["a","b"], "as": ["k","v"]}], "mark": {"type": "rule", "strokeWidth": 1.2, "strokeDash": [4,3]},
    "encoding": {"x": {"field": "g", "type": "nominal", "title": null, "bandPosition": 0.12}, "x2": {"field": "g", "bandPosition": 0.88}, "y": {"field": "v", "type": "quantitative", "title": "α count (x10³)"}, "color": {"field": "g", "type": "nominal", "legend": null}}},
   {"transform": [{"filter": "datum.p=='B2'"}, {"aggregate": [{"op": "median", "field": "v", "as": "v"}], "groupby": ["g"]}], "mark": {"type": "rule", "strokeWidth": 1.3},
    "encoding": {"x": {"field": "g", "type": "nominal", "title": null, "bandPosition": 0.08}, "x2": {"field": "g", "bandPosition": 0.92}, "y": {"field": "v", "type": "quantitative", "title": "α count (x10³)"}, "color": {"field": "g", "type": "nominal", "legend": null}}},
   {"transform": [{"filter": "datum.p=='B2'"}], "mark": {"type": "circle", "size": 40, "opacity": 1},
    "encoding": {"y": {"field": "v", "type": "quantitative", "title": "α count (x10³)"}, "xOffset": {"field": "j", "type": "quantitative", "scale": {"domain": [-2.5,2.5], "nice": false, "zero": false}}, "color": {"field": "g", "type": "nominal", "legend": null}}},
   {"data": {"name": "br"}, "transform": [{"filter": "datum.p=='B2'"}], "mark": {"type": "line", "color": "#333333", "strokeWidth": 1},
    "encoding": {"y": {"field": "y", "type": "quantitative", "title": "α count (x10³)"}, "order": {"field": "o", "type": "quantitative"}}},
   {"data": {"name": "br"}, "transform": [{"filter": "datum.p=='B2' && datum.o==1"}], "mark": {"type": "text", "text": "*", "fontSize": 16, "dx": 24.6, "dy": -1, "baseline": "alphabetic", "color": "#333333"},
    "encoding": {"y": {"field": "y", "type": "quantitative", "title": "α count (x10³)"}}}
  ],
  "resolve": {"scale": {"size": "independent"}}},
 {"width": 190, "height": 125,
  "data": {"name": "vio"},
  "encoding": {"x": {"field": "g", "type": "nominal", "title": null, "scale": {"type": "band", "domain": ["WT","H444Q"], "range": [39, 161], "paddingInner": 0.3, "paddingOuter": 0.39}, "axis": {"labelAngle": 0}}},
  "layer": [
   {"transform": [{"filter": "datum.p=='B3' && datum.g=='WT'"}, {"density": "v", "groupby": ["g"], "bandwidth": 1.8, "as": ["v","d"]}], "mark": {"type": "trail", "opacity": 1},
    "encoding": {"y": {"field": "v", "type": "quantitative", "title": "α count (x10³)", "scale": {"domain": [0,50], "nice": false}, "axis": {"values": [0,10,20,30,40,50], "offset": -39}}, "size": {"field": "d", "type": "quantitative", "scale": {"zero": true, "range": [2.6,38.6]}, "legend": null}, "color": {"field": "g", "type": "nominal", "scale": {"domain": ["WT","H444Q"], "range": ["#000000","#7e3a9e"]}, "legend": null}, "order": {"field": "v", "type": "quantitative"}}},
   {"transform": [{"filter": "datum.p=='B3' && datum.g=='WT'"}, {"density": "v", "groupby": ["g"], "bandwidth": 1.8, "as": ["v","d"]}], "mark": {"type": "trail", "color": "#ffffff", "opacity": 1},
    "encoding": {"y": {"field": "v", "type": "quantitative", "title": "α count (x10³)"}, "size": {"field": "d", "type": "quantitative", "scale": {"zero": true, "range": [0,36]}, "legend": null}, "order": {"field": "v", "type": "quantitative"}}},
   {"transform": [{"filter": "datum.p=='B3' && datum.g=='H444Q'"}, {"density": "v", "groupby": ["g"], "bandwidth": 1.8, "as": ["v","d"]}], "mark": {"type": "trail", "opacity": 1},
    "encoding": {"y": {"field": "v", "type": "quantitative", "title": "α count (x10³)"}, "size": {"field": "d", "type": "quantitative", "scale": {"zero": true, "range": [2.6,38.6]}, "legend": null}, "color": {"field": "g", "type": "nominal", "legend": null}, "order": {"field": "v", "type": "quantitative"}}},
   {"transform": [{"filter": "datum.p=='B3' && datum.g=='H444Q'"}, {"density": "v", "groupby": ["g"], "bandwidth": 1.8, "as": ["v","d"]}], "mark": {"type": "trail", "color": "#ffffff", "opacity": 1},
    "encoding": {"y": {"field": "v", "type": "quantitative", "title": "α count (x10³)"}, "size": {"field": "d", "type": "quantitative", "scale": {"zero": true, "range": [0,36]}, "legend": null}, "order": {"field": "v", "type": "quantitative"}}},
   {"transform": [{"filter": "datum.p=='B3'"}, {"aggregate": [{"op": "q1", "field": "v", "as": "a"}, {"op": "q3", "field": "v", "as": "b"}], "groupby": ["g"]}, {"fold": ["a","b"], "as": ["k","v"]}], "mark": {"type": "rule", "strokeWidth": 1.2, "strokeDash": [4,3]},
    "encoding": {"x": {"field": "g", "type": "nominal", "title": null, "bandPosition": 0.12}, "x2": {"field": "g", "bandPosition": 0.88}, "y": {"field": "v", "type": "quantitative", "title": "α count (x10³)"}, "color": {"field": "g", "type": "nominal", "legend": null}}},
   {"transform": [{"filter": "datum.p=='B3'"}, {"aggregate": [{"op": "median", "field": "v", "as": "v"}], "groupby": ["g"]}], "mark": {"type": "rule", "strokeWidth": 1.3},
    "encoding": {"x": {"field": "g", "type": "nominal", "title": null, "bandPosition": 0.08}, "x2": {"field": "g", "bandPosition": 0.92}, "y": {"field": "v", "type": "quantitative", "title": "α count (x10³)"}, "color": {"field": "g", "type": "nominal", "legend": null}}},
   {"transform": [{"filter": "datum.p=='B3'"}], "mark": {"type": "circle", "size": 40, "opacity": 1},
    "encoding": {"y": {"field": "v", "type": "quantitative", "title": "α count (x10³)"}, "xOffset": {"field": "j", "type": "quantitative", "scale": {"domain": [-2.5,2.5], "nice": false, "zero": false}}, "color": {"field": "g", "type": "nominal", "legend": null}}}
  ],
  "resolve": {"scale": {"size": "independent"}}},
 {"width": 188, "height": 125,
  "title": {"text": "C", "orient": "left", "anchor": "end", "angle": 0, "baseline": "middle", "align": "right", "offset": 16},
  "data": {"name": "vio"},
  "encoding": {"x": {"field": "g", "type": "nominal", "title": null, "scale": {"type": "band", "domain": ["WT","N999S"], "range": [35, 157], "paddingInner": 0.3, "paddingOuter": 0.39}, "axis": {"labelAngle": 0}}},
  "layer": [
   {"transform": [{"filter": "datum.p=='C1' && datum.g=='WT'"}, {"density": "v", "groupby": ["g"], "bandwidth": 0.6, "as": ["v","d"]}], "mark": {"type": "trail", "opacity": 1},
    "encoding": {"y": {"field": "v", "type": "quantitative", "title": "Bouts/Day", "scale": {"domain": [0,15], "nice": false}, "axis": {"values": [0,5,10,15], "offset": -35}}, "size": {"field": "d", "type": "quantitative", "scale": {"zero": true, "range": [2.6,38.6]}, "legend": null}, "color": {"field": "g", "type": "nominal", "scale": {"domain": ["WT","N999S"], "range": ["#000000","#e8712b"]}, "legend": null}, "order": {"field": "v", "type": "quantitative"}}},
   {"transform": [{"filter": "datum.p=='C1' && datum.g=='WT'"}, {"density": "v", "groupby": ["g"], "bandwidth": 0.6, "as": ["v","d"]}], "mark": {"type": "trail", "color": "#ffffff", "opacity": 1},
    "encoding": {"y": {"field": "v", "type": "quantitative", "title": "Bouts/Day"}, "size": {"field": "d", "type": "quantitative", "scale": {"zero": true, "range": [0,36]}, "legend": null}, "order": {"field": "v", "type": "quantitative"}}},
   {"transform": [{"filter": "datum.p=='C1' && datum.g=='N999S'"}, {"density": "v", "groupby": ["g"], "bandwidth": 0.6, "as": ["v","d"]}], "mark": {"type": "trail", "opacity": 1},
    "encoding": {"y": {"field": "v", "type": "quantitative", "title": "Bouts/Day"}, "size": {"field": "d", "type": "quantitative", "scale": {"zero": true, "range": [2.6,38.6]}, "legend": null}, "color": {"field": "g", "type": "nominal", "legend": null}, "order": {"field": "v", "type": "quantitative"}}},
   {"transform": [{"filter": "datum.p=='C1' && datum.g=='N999S'"}, {"density": "v", "groupby": ["g"], "bandwidth": 0.6, "as": ["v","d"]}], "mark": {"type": "trail", "color": "#ffffff", "opacity": 1},
    "encoding": {"y": {"field": "v", "type": "quantitative", "title": "Bouts/Day"}, "size": {"field": "d", "type": "quantitative", "scale": {"zero": true, "range": [0,36]}, "legend": null}, "order": {"field": "v", "type": "quantitative"}}},
   {"transform": [{"filter": "datum.p=='C1'"}, {"aggregate": [{"op": "q1", "field": "v", "as": "a"}, {"op": "q3", "field": "v", "as": "b"}], "groupby": ["g"]}, {"fold": ["a","b"], "as": ["k","v"]}], "mark": {"type": "rule", "strokeWidth": 1.2, "strokeDash": [4,3]},
    "encoding": {"x": {"field": "g", "type": "nominal", "title": null, "bandPosition": 0.12}, "x2": {"field": "g", "bandPosition": 0.88}, "y": {"field": "v", "type": "quantitative", "title": "Bouts/Day"}, "color": {"field": "g", "type": "nominal", "legend": null}}},
   {"transform": [{"filter": "datum.p=='C1'"}, {"aggregate": [{"op": "median", "field": "v", "as": "v"}], "groupby": ["g"]}], "mark": {"type": "rule", "strokeWidth": 1.3},
    "encoding": {"x": {"field": "g", "type": "nominal", "title": null, "bandPosition": 0.08}, "x2": {"field": "g", "bandPosition": 0.92}, "y": {"field": "v", "type": "quantitative", "title": "Bouts/Day"}, "color": {"field": "g", "type": "nominal", "legend": null}}},
   {"transform": [{"filter": "datum.p=='C1'"}], "mark": {"type": "circle", "size": 40, "opacity": 1},
    "encoding": {"y": {"field": "v", "type": "quantitative", "title": "Bouts/Day"}, "xOffset": {"field": "j", "type": "quantitative", "scale": {"domain": [-2.5,2.5], "nice": false, "zero": false}}, "color": {"field": "g", "type": "nominal", "legend": null}}}
  ],
  "resolve": {"scale": {"size": "independent"}}},
 {"width": 209, "height": 125,
  "data": {"name": "vio"},
  "encoding": {"x": {"field": "g", "type": "nominal", "title": null, "scale": {"type": "band", "domain": ["WT","D434G"], "range": [53, 175], "paddingInner": 0.3, "paddingOuter": 0.39}, "axis": {"labelAngle": 0}}},
  "layer": [
   {"transform": [{"filter": "datum.p=='C2' && datum.g=='WT'"}, {"density": "v", "groupby": ["g"], "bandwidth": 0.6, "as": ["v","d"]}], "mark": {"type": "trail", "opacity": 1},
    "encoding": {"y": {"field": "v", "type": "quantitative", "title": "Bouts/Day", "scale": {"domain": [0,15], "nice": false}, "axis": {"values": [0,5,10,15], "offset": -53}}, "size": {"field": "d", "type": "quantitative", "scale": {"zero": true, "range": [2.6,38.6]}, "legend": null}, "color": {"field": "g", "type": "nominal", "scale": {"domain": ["WT","D434G"], "range": ["#000000","#3d4db7"]}, "legend": null}, "order": {"field": "v", "type": "quantitative"}}},
   {"transform": [{"filter": "datum.p=='C2' && datum.g=='WT'"}, {"density": "v", "groupby": ["g"], "bandwidth": 0.6, "as": ["v","d"]}], "mark": {"type": "trail", "color": "#ffffff", "opacity": 1},
    "encoding": {"y": {"field": "v", "type": "quantitative", "title": "Bouts/Day"}, "size": {"field": "d", "type": "quantitative", "scale": {"zero": true, "range": [0,36]}, "legend": null}, "order": {"field": "v", "type": "quantitative"}}},
   {"transform": [{"filter": "datum.p=='C2' && datum.g=='D434G'"}, {"density": "v", "groupby": ["g"], "bandwidth": 0.6, "as": ["v","d"]}], "mark": {"type": "trail", "opacity": 1},
    "encoding": {"y": {"field": "v", "type": "quantitative", "title": "Bouts/Day"}, "size": {"field": "d", "type": "quantitative", "scale": {"zero": true, "range": [2.6,38.6]}, "legend": null}, "color": {"field": "g", "type": "nominal", "legend": null}, "order": {"field": "v", "type": "quantitative"}}},
   {"transform": [{"filter": "datum.p=='C2' && datum.g=='D434G'"}, {"density": "v", "groupby": ["g"], "bandwidth": 0.6, "as": ["v","d"]}], "mark": {"type": "trail", "color": "#ffffff", "opacity": 1},
    "encoding": {"y": {"field": "v", "type": "quantitative", "title": "Bouts/Day"}, "size": {"field": "d", "type": "quantitative", "scale": {"zero": true, "range": [0,36]}, "legend": null}, "order": {"field": "v", "type": "quantitative"}}},
   {"transform": [{"filter": "datum.p=='C2'"}, {"aggregate": [{"op": "q1", "field": "v", "as": "a"}, {"op": "q3", "field": "v", "as": "b"}], "groupby": ["g"]}, {"fold": ["a","b"], "as": ["k","v"]}], "mark": {"type": "rule", "strokeWidth": 1.2, "strokeDash": [4,3]},
    "encoding": {"x": {"field": "g", "type": "nominal", "title": null, "bandPosition": 0.12}, "x2": {"field": "g", "bandPosition": 0.88}, "y": {"field": "v", "type": "quantitative", "title": "Bouts/Day"}, "color": {"field": "g", "type": "nominal", "legend": null}}},
   {"transform": [{"filter": "datum.p=='C2'"}, {"aggregate": [{"op": "median", "field": "v", "as": "v"}], "groupby": ["g"]}], "mark": {"type": "rule", "strokeWidth": 1.3},
    "encoding": {"x": {"field": "g", "type": "nominal", "title": null, "bandPosition": 0.08}, "x2": {"field": "g", "bandPosition": 0.92}, "y": {"field": "v", "type": "quantitative", "title": "Bouts/Day"}, "color": {"field": "g", "type": "nominal", "legend": null}}},
   {"transform": [{"filter": "datum.p=='C2'"}], "mark": {"type": "circle", "size": 40, "opacity": 1},
    "encoding": {"y": {"field": "v", "type": "quantitative", "title": "Bouts/Day"}, "xOffset": {"field": "j", "type": "quantitative", "scale": {"domain": [-2.5,2.5], "nice": false, "zero": false}}, "color": {"field": "g", "type": "nominal", "legend": null}}}
  ],
  "resolve": {"scale": {"size": "independent"}}},
 {"width": 190, "height": 125,
  "data": {"name": "vio"},
  "encoding": {"x": {"field": "g", "type": "nominal", "title": null, "scale": {"type": "band", "domain": ["WT","H444Q"], "range": [39, 161], "paddingInner": 0.3, "paddingOuter": 0.39}, "axis": {"labelAngle": 0}}},
  "layer": [
   {"transform": [{"filter": "datum.p=='C3' && datum.g=='WT'"}, {"density": "v", "groupby": ["g"], "bandwidth": 0.6, "as": ["v","d"]}], "mark": {"type": "trail", "opacity": 1},
    "encoding": {"y": {"field": "v", "type": "quantitative", "title": "Bouts/Day", "scale": {"domain": [0,15], "nice": false}, "axis": {"values": [0,5,10,15], "offset": -39}}, "size": {"field": "d", "type": "quantitative", "scale": {"zero": true, "range": [2.6,38.6]}, "legend": null}, "color": {"field": "g", "type": "nominal", "scale": {"domain": ["WT","H444Q"], "range": ["#000000","#7e3a9e"]}, "legend": null}, "order": {"field": "v", "type": "quantitative"}}},
   {"transform": [{"filter": "datum.p=='C3' && datum.g=='WT'"}, {"density": "v", "groupby": ["g"], "bandwidth": 0.6, "as": ["v","d"]}], "mark": {"type": "trail", "color": "#ffffff", "opacity": 1},
    "encoding": {"y": {"field": "v", "type": "quantitative", "title": "Bouts/Day"}, "size": {"field": "d", "type": "quantitative", "scale": {"zero": true, "range": [0,36]}, "legend": null}, "order": {"field": "v", "type": "quantitative"}}},
   {"transform": [{"filter": "datum.p=='C3' && datum.g=='H444Q'"}, {"density": "v", "groupby": ["g"], "bandwidth": 0.6, "as": ["v","d"]}], "mark": {"type": "trail", "opacity": 1},
    "encoding": {"y": {"field": "v", "type": "quantitative", "title": "Bouts/Day"}, "size": {"field": "d", "type": "quantitative", "scale": {"zero": true, "range": [2.6,38.6]}, "legend": null}, "color": {"field": "g", "type": "nominal", "legend": null}, "order": {"field": "v", "type": "quantitative"}}},
   {"transform": [{"filter": "datum.p=='C3' && datum.g=='H444Q'"}, {"density": "v", "groupby": ["g"], "bandwidth": 0.6, "as": ["v","d"]}], "mark": {"type": "trail", "color": "#ffffff", "opacity": 1},
    "encoding": {"y": {"field": "v", "type": "quantitative", "title": "Bouts/Day"}, "size": {"field": "d", "type": "quantitative", "scale": {"zero": true, "range": [0,36]}, "legend": null}, "order": {"field": "v", "type": "quantitative"}}},
   {"transform": [{"filter": "datum.p=='C3'"}, {"aggregate": [{"op": "q1", "field": "v", "as": "a"}, {"op": "q3", "field": "v", "as": "b"}], "groupby": ["g"]}, {"fold": ["a","b"], "as": ["k","v"]}], "mark": {"type": "rule", "strokeWidth": 1.2, "strokeDash": [4,3]},
    "encoding": {"x": {"field": "g", "type": "nominal", "title": null, "bandPosition": 0.12}, "x2": {"field": "g", "bandPosition": 0.88}, "y": {"field": "v", "type": "quantitative", "title": "Bouts/Day"}, "color": {"field": "g", "type": "nominal", "legend": null}}},
   {"transform": [{"filter": "datum.p=='C3'"}, {"aggregate": [{"op": "median", "field": "v", "as": "v"}], "groupby": ["g"]}], "mark": {"type": "rule", "strokeWidth": 1.3},
    "encoding": {"x": {"field": "g", "type": "nominal", "title": null, "bandPosition": 0.08}, "x2": {"field": "g", "bandPosition": 0.92}, "y": {"field": "v", "type": "quantitative", "title": "Bouts/Day"}, "color": {"field": "g", "type": "nominal", "legend": null}}},
   {"transform": [{"filter": "datum.p=='C3'"}], "mark": {"type": "circle", "size": 40, "opacity": 1},
    "encoding": {"y": {"field": "v", "type": "quantitative", "title": "Bouts/Day"}, "xOffset": {"field": "j", "type": "quantitative", "scale": {"domain": [-2.5,2.5], "nice": false, "zero": false}}, "color": {"field": "g", "type": "nominal", "legend": null}}},
   {"data": {"name": "br"}, "transform": [{"filter": "datum.p=='C3'"}], "mark": {"type": "line", "color": "#333333", "strokeWidth": 1},
    "encoding": {"y": {"field": "y", "type": "quantitative", "title": "Bouts/Day"}, "order": {"field": "o", "type": "quantitative"}}},
   {"data": {"name": "br"}, "transform": [{"filter": "datum.p=='C3' && datum.o==1"}], "mark": {"type": "text", "text": "*", "fontSize": 16, "dx": 24.6, "dy": -1, "baseline": "alphabetic", "color": "#333333"},
    "encoding": {"y": {"field": "y", "type": "quantitative", "title": "Bouts/Day"}}}
  ],
  "resolve": {"scale": {"size": "independent"}}},
 {"width": 188, "height": 125,
  "title": {"text": "D", "orient": "left", "anchor": "end", "angle": 0, "baseline": "middle", "align": "right", "offset": 9},
  "data": {"name": "vio"},
  "encoding": {"x": {"field": "g", "type": "nominal", "title": null, "scale": {"type": "band", "domain": ["WT","N999S"], "range": [35, 157], "paddingInner": 0.3, "paddingOuter": 0.39}, "axis": {"labelAngle": 0}}},
  "layer": [
   {"transform": [{"filter": "datum.p=='D1' && datum.g=='WT'"}, {"density": "v", "groupby": ["g"], "bandwidth": 7.5, "as": ["v","d"]}], "mark": {"type": "trail", "opacity": 1},
    "encoding": {"y": {"field": "v", "type": "quantitative", "title": "Bout Duration (min)", "scale": {"domain": [0,200], "nice": false}, "axis": {"values": [0,50,100,150,200], "offset": -35}}, "size": {"field": "d", "type": "quantitative", "scale": {"zero": true, "range": [2.6,38.6]}, "legend": null}, "color": {"field": "g", "type": "nominal", "scale": {"domain": ["WT","N999S"], "range": ["#000000","#e8712b"]}, "legend": null}, "order": {"field": "v", "type": "quantitative"}}},
   {"transform": [{"filter": "datum.p=='D1' && datum.g=='WT'"}, {"density": "v", "groupby": ["g"], "bandwidth": 7.5, "as": ["v","d"]}], "mark": {"type": "trail", "color": "#ffffff", "opacity": 1},
    "encoding": {"y": {"field": "v", "type": "quantitative", "title": "Bout Duration (min)"}, "size": {"field": "d", "type": "quantitative", "scale": {"zero": true, "range": [0,36]}, "legend": null}, "order": {"field": "v", "type": "quantitative"}}},
   {"transform": [{"filter": "datum.p=='D1' && datum.g=='N999S'"}, {"density": "v", "groupby": ["g"], "bandwidth": 7.5, "as": ["v","d"]}], "mark": {"type": "trail", "opacity": 1},
    "encoding": {"y": {"field": "v", "type": "quantitative", "title": "Bout Duration (min)"}, "size": {"field": "d", "type": "quantitative", "scale": {"zero": true, "range": [2.6,38.6]}, "legend": null}, "color": {"field": "g", "type": "nominal", "legend": null}, "order": {"field": "v", "type": "quantitative"}}},
   {"transform": [{"filter": "datum.p=='D1' && datum.g=='N999S'"}, {"density": "v", "groupby": ["g"], "bandwidth": 7.5, "as": ["v","d"]}], "mark": {"type": "trail", "color": "#ffffff", "opacity": 1},
    "encoding": {"y": {"field": "v", "type": "quantitative", "title": "Bout Duration (min)"}, "size": {"field": "d", "type": "quantitative", "scale": {"zero": true, "range": [0,36]}, "legend": null}, "order": {"field": "v", "type": "quantitative"}}},
   {"transform": [{"filter": "datum.p=='D1'"}, {"aggregate": [{"op": "q1", "field": "v", "as": "a"}, {"op": "q3", "field": "v", "as": "b"}], "groupby": ["g"]}, {"fold": ["a","b"], "as": ["k","v"]}], "mark": {"type": "rule", "strokeWidth": 1.2, "strokeDash": [4,3]},
    "encoding": {"x": {"field": "g", "type": "nominal", "title": null, "bandPosition": 0.12}, "x2": {"field": "g", "bandPosition": 0.88}, "y": {"field": "v", "type": "quantitative", "title": "Bout Duration (min)"}, "color": {"field": "g", "type": "nominal", "legend": null}}},
   {"transform": [{"filter": "datum.p=='D1'"}, {"aggregate": [{"op": "median", "field": "v", "as": "v"}], "groupby": ["g"]}], "mark": {"type": "rule", "strokeWidth": 1.3},
    "encoding": {"x": {"field": "g", "type": "nominal", "title": null, "bandPosition": 0.08}, "x2": {"field": "g", "bandPosition": 0.92}, "y": {"field": "v", "type": "quantitative", "title": "Bout Duration (min)"}, "color": {"field": "g", "type": "nominal", "legend": null}}},
   {"transform": [{"filter": "datum.p=='D1'"}], "mark": {"type": "circle", "size": 40, "opacity": 1},
    "encoding": {"y": {"field": "v", "type": "quantitative", "title": "Bout Duration (min)"}, "xOffset": {"field": "j", "type": "quantitative", "scale": {"domain": [-2.5,2.5], "nice": false, "zero": false}}, "color": {"field": "g", "type": "nominal", "legend": null}}}
  ],
  "resolve": {"scale": {"size": "independent"}}},
 {"width": 209, "height": 125,
  "data": {"name": "vio"},
  "encoding": {"x": {"field": "g", "type": "nominal", "title": null, "scale": {"type": "band", "domain": ["WT","D434G"], "range": [53, 175], "paddingInner": 0.3, "paddingOuter": 0.39}, "axis": {"labelAngle": 0}}},
  "layer": [
   {"transform": [{"filter": "datum.p=='D2' && datum.g=='WT'"}, {"density": "v", "groupby": ["g"], "bandwidth": 7.5, "as": ["v","d"]}], "mark": {"type": "trail", "opacity": 1},
    "encoding": {"y": {"field": "v", "type": "quantitative", "title": "Bout Duration (min)", "scale": {"domain": [0,200], "nice": false}, "axis": {"values": [0,50,100,150,200], "offset": -53}}, "size": {"field": "d", "type": "quantitative", "scale": {"zero": true, "range": [2.6,38.6]}, "legend": null}, "color": {"field": "g", "type": "nominal", "scale": {"domain": ["WT","D434G"], "range": ["#000000","#3d4db7"]}, "legend": null}, "order": {"field": "v", "type": "quantitative"}}},
   {"transform": [{"filter": "datum.p=='D2' && datum.g=='WT'"}, {"density": "v", "groupby": ["g"], "bandwidth": 7.5, "as": ["v","d"]}], "mark": {"type": "trail", "color": "#ffffff", "opacity": 1},
    "encoding": {"y": {"field": "v", "type": "quantitative", "title": "Bout Duration (min)"}, "size": {"field": "d", "type": "quantitative", "scale": {"zero": true, "range": [0,36]}, "legend": null}, "order": {"field": "v", "type": "quantitative"}}},
   {"transform": [{"filter": "datum.p=='D2' && datum.g=='D434G'"}, {"density": "v", "groupby": ["g"], "bandwidth": 7.5, "as": ["v","d"]}], "mark": {"type": "trail", "opacity": 1},
    "encoding": {"y": {"field": "v", "type": "quantitative", "title": "Bout Duration (min)"}, "size": {"field": "d", "type": "quantitative", "scale": {"zero": true, "range": [2.6,38.6]}, "legend": null}, "color": {"field": "g", "type": "nominal", "legend": null}, "order": {"field": "v", "type": "quantitative"}}},
   {"transform": [{"filter": "datum.p=='D2' && datum.g=='D434G'"}, {"density": "v", "groupby": ["g"], "bandwidth": 7.5, "as": ["v","d"]}], "mark": {"type": "trail", "color": "#ffffff", "opacity": 1},
    "encoding": {"y": {"field": "v", "type": "quantitative", "title": "Bout Duration (min)"}, "size": {"field": "d", "type": "quantitative", "scale": {"zero": true, "range": [0,36]}, "legend": null}, "order": {"field": "v", "type": "quantitative"}}},
   {"transform": [{"filter": "datum.p=='D2'"}, {"aggregate": [{"op": "q1", "field": "v", "as": "a"}, {"op": "q3", "field": "v", "as": "b"}], "groupby": ["g"]}, {"fold": ["a","b"], "as": ["k","v"]}], "mark": {"type": "rule", "strokeWidth": 1.2, "strokeDash": [4,3]},
    "encoding": {"x": {"field": "g", "type": "nominal", "title": null, "bandPosition": 0.12}, "x2": {"field": "g", "bandPosition": 0.88}, "y": {"field": "v", "type": "quantitative", "title": "Bout Duration (min)"}, "color": {"field": "g", "type": "nominal", "legend": null}}},
   {"transform": [{"filter": "datum.p=='D2'"}, {"aggregate": [{"op": "median", "field": "v", "as": "v"}], "groupby": ["g"]}], "mark": {"type": "rule", "strokeWidth": 1.3},
    "encoding": {"x": {"field": "g", "type": "nominal", "title": null, "bandPosition": 0.08}, "x2": {"field": "g", "bandPosition": 0.92}, "y": {"field": "v", "type": "quantitative", "title": "Bout Duration (min)"}, "color": {"field": "g", "type": "nominal", "legend": null}}},
   {"transform": [{"filter": "datum.p=='D2'"}], "mark": {"type": "circle", "size": 40, "opacity": 1},
    "encoding": {"y": {"field": "v", "type": "quantitative", "title": "Bout Duration (min)"}, "xOffset": {"field": "j", "type": "quantitative", "scale": {"domain": [-2.5,2.5], "nice": false, "zero": false}}, "color": {"field": "g", "type": "nominal", "legend": null}}}
  ],
  "resolve": {"scale": {"size": "independent"}}},
 {"width": 190, "height": 125,
  "data": {"name": "vio"},
  "encoding": {"x": {"field": "g", "type": "nominal", "title": null, "scale": {"type": "band", "domain": ["WT","H444Q"], "range": [39, 161], "paddingInner": 0.3, "paddingOuter": 0.39}, "axis": {"labelAngle": 0}}},
  "layer": [
   {"transform": [{"filter": "datum.p=='D3' && datum.g=='WT'"}, {"density": "v", "groupby": ["g"], "bandwidth": 7.5, "as": ["v","d"]}], "mark": {"type": "trail", "opacity": 1},
    "encoding": {"y": {"field": "v", "type": "quantitative", "title": "Bout Duration (min)", "scale": {"domain": [0,200], "nice": false}, "axis": {"values": [0,50,100,150,200], "offset": -39}}, "size": {"field": "d", "type": "quantitative", "scale": {"zero": true, "range": [2.6,38.6]}, "legend": null}, "color": {"field": "g", "type": "nominal", "scale": {"domain": ["WT","H444Q"], "range": ["#000000","#7e3a9e"]}, "legend": null}, "order": {"field": "v", "type": "quantitative"}}},
   {"transform": [{"filter": "datum.p=='D3' && datum.g=='WT'"}, {"density": "v", "groupby": ["g"], "bandwidth": 7.5, "as": ["v","d"]}], "mark": {"type": "trail", "color": "#ffffff", "opacity": 1},
    "encoding": {"y": {"field": "v", "type": "quantitative", "title": "Bout Duration (min)"}, "size": {"field": "d", "type": "quantitative", "scale": {"zero": true, "range": [0,36]}, "legend": null}, "order": {"field": "v", "type": "quantitative"}}},
   {"transform": [{"filter": "datum.p=='D3' && datum.g=='H444Q'"}, {"density": "v", "groupby": ["g"], "bandwidth": 7.5, "as": ["v","d"]}], "mark": {"type": "trail", "opacity": 1},
    "encoding": {"y": {"field": "v", "type": "quantitative", "title": "Bout Duration (min)"}, "size": {"field": "d", "type": "quantitative", "scale": {"zero": true, "range": [2.6,38.6]}, "legend": null}, "color": {"field": "g", "type": "nominal", "legend": null}, "order": {"field": "v", "type": "quantitative"}}},
   {"transform": [{"filter": "datum.p=='D3' && datum.g=='H444Q'"}, {"density": "v", "groupby": ["g"], "bandwidth": 7.5, "as": ["v","d"]}], "mark": {"type": "trail", "color": "#ffffff", "opacity": 1},
    "encoding": {"y": {"field": "v", "type": "quantitative", "title": "Bout Duration (min)"}, "size": {"field": "d", "type": "quantitative", "scale": {"zero": true, "range": [0,36]}, "legend": null}, "order": {"field": "v", "type": "quantitative"}}},
   {"transform": [{"filter": "datum.p=='D3'"}, {"aggregate": [{"op": "q1", "field": "v", "as": "a"}, {"op": "q3", "field": "v", "as": "b"}], "groupby": ["g"]}, {"fold": ["a","b"], "as": ["k","v"]}], "mark": {"type": "rule", "strokeWidth": 1.2, "strokeDash": [4,3]},
    "encoding": {"x": {"field": "g", "type": "nominal", "title": null, "bandPosition": 0.12}, "x2": {"field": "g", "bandPosition": 0.88}, "y": {"field": "v", "type": "quantitative", "title": "Bout Duration (min)"}, "color": {"field": "g", "type": "nominal", "legend": null}}},
   {"transform": [{"filter": "datum.p=='D3'"}, {"aggregate": [{"op": "median", "field": "v", "as": "v"}], "groupby": ["g"]}], "mark": {"type": "rule", "strokeWidth": 1.3},
    "encoding": {"x": {"field": "g", "type": "nominal", "title": null, "bandPosition": 0.08}, "x2": {"field": "g", "bandPosition": 0.92}, "y": {"field": "v", "type": "quantitative", "title": "Bout Duration (min)"}, "color": {"field": "g", "type": "nominal", "legend": null}}},
   {"transform": [{"filter": "datum.p=='D3'"}], "mark": {"type": "circle", "size": 40, "opacity": 1},
    "encoding": {"y": {"field": "v", "type": "quantitative", "title": "Bout Duration (min)"}, "xOffset": {"field": "j", "type": "quantitative", "scale": {"domain": [-2.5,2.5], "nice": false, "zero": false}}, "color": {"field": "g", "type": "nominal", "legend": null}}}
  ],
  "resolve": {"scale": {"size": "independent"}}},
 {"width": 188, "height": 125,
  "title": {"text": "E", "orient": "left", "anchor": "end", "angle": 0, "baseline": "middle", "align": "right", "offset": 16},
  "data": {"name": "vio"},
  "encoding": {"x": {"field": "g", "type": "nominal", "title": null, "scale": {"type": "band", "domain": ["WT","N999S"], "range": [35, 157], "paddingInner": 0.3, "paddingOuter": 0.39}, "axis": {"labelAngle": 0}}},
  "layer": [
   {"transform": [{"filter": "datum.p=='E1' && datum.g=='WT'"}, {"density": "v", "groupby": ["g"], "bandwidth": 0.5, "as": ["v","d"]}], "mark": {"type": "trail", "opacity": 1},
    "encoding": {"y": {"field": "v", "type": "quantitative", "title": "Counts/Bout (x10³)", "scale": {"domain": [0,15], "nice": false}, "axis": {"values": [0,5,10,15], "offset": -35}}, "size": {"field": "d", "type": "quantitative", "scale": {"zero": true, "range": [2.6,38.6]}, "legend": null}, "color": {"field": "g", "type": "nominal", "scale": {"domain": ["WT","N999S"], "range": ["#000000","#e8712b"]}, "legend": null}, "order": {"field": "v", "type": "quantitative"}}},
   {"transform": [{"filter": "datum.p=='E1' && datum.g=='WT'"}, {"density": "v", "groupby": ["g"], "bandwidth": 0.5, "as": ["v","d"]}], "mark": {"type": "trail", "color": "#ffffff", "opacity": 1},
    "encoding": {"y": {"field": "v", "type": "quantitative", "title": "Counts/Bout (x10³)"}, "size": {"field": "d", "type": "quantitative", "scale": {"zero": true, "range": [0,36]}, "legend": null}, "order": {"field": "v", "type": "quantitative"}}},
   {"transform": [{"filter": "datum.p=='E1' && datum.g=='N999S'"}, {"density": "v", "groupby": ["g"], "bandwidth": 0.5, "as": ["v","d"]}], "mark": {"type": "trail", "opacity": 1},
    "encoding": {"y": {"field": "v", "type": "quantitative", "title": "Counts/Bout (x10³)"}, "size": {"field": "d", "type": "quantitative", "scale": {"zero": true, "range": [2.6,38.6]}, "legend": null}, "color": {"field": "g", "type": "nominal", "legend": null}, "order": {"field": "v", "type": "quantitative"}}},
   {"transform": [{"filter": "datum.p=='E1' && datum.g=='N999S'"}, {"density": "v", "groupby": ["g"], "bandwidth": 0.5, "as": ["v","d"]}], "mark": {"type": "trail", "color": "#ffffff", "opacity": 1},
    "encoding": {"y": {"field": "v", "type": "quantitative", "title": "Counts/Bout (x10³)"}, "size": {"field": "d", "type": "quantitative", "scale": {"zero": true, "range": [0,36]}, "legend": null}, "order": {"field": "v", "type": "quantitative"}}},
   {"transform": [{"filter": "datum.p=='E1'"}, {"aggregate": [{"op": "q1", "field": "v", "as": "a"}, {"op": "q3", "field": "v", "as": "b"}], "groupby": ["g"]}, {"fold": ["a","b"], "as": ["k","v"]}], "mark": {"type": "rule", "strokeWidth": 1.2, "strokeDash": [4,3]},
    "encoding": {"x": {"field": "g", "type": "nominal", "title": null, "bandPosition": 0.12}, "x2": {"field": "g", "bandPosition": 0.88}, "y": {"field": "v", "type": "quantitative", "title": "Counts/Bout (x10³)"}, "color": {"field": "g", "type": "nominal", "legend": null}}},
   {"transform": [{"filter": "datum.p=='E1'"}, {"aggregate": [{"op": "median", "field": "v", "as": "v"}], "groupby": ["g"]}], "mark": {"type": "rule", "strokeWidth": 1.3},
    "encoding": {"x": {"field": "g", "type": "nominal", "title": null, "bandPosition": 0.08}, "x2": {"field": "g", "bandPosition": 0.92}, "y": {"field": "v", "type": "quantitative", "title": "Counts/Bout (x10³)"}, "color": {"field": "g", "type": "nominal", "legend": null}}},
   {"transform": [{"filter": "datum.p=='E1'"}], "mark": {"type": "circle", "size": 40, "opacity": 1},
    "encoding": {"y": {"field": "v", "type": "quantitative", "title": "Counts/Bout (x10³)"}, "xOffset": {"field": "j", "type": "quantitative", "scale": {"domain": [-2.5,2.5], "nice": false, "zero": false}}, "color": {"field": "g", "type": "nominal", "legend": null}}},
   {"data": {"name": "br"}, "transform": [{"filter": "datum.p=='E1'"}], "mark": {"type": "line", "color": "#333333", "strokeWidth": 1},
    "encoding": {"y": {"field": "y", "type": "quantitative", "title": "Counts/Bout (x10³)"}, "order": {"field": "o", "type": "quantitative"}}},
   {"data": {"name": "br"}, "transform": [{"filter": "datum.p=='E1' && datum.o==1"}], "mark": {"type": "text", "text": "*", "fontSize": 16, "dx": 24.6, "dy": -1, "baseline": "alphabetic", "color": "#333333"},
    "encoding": {"y": {"field": "y", "type": "quantitative", "title": "Counts/Bout (x10³)"}}}
  ],
  "resolve": {"scale": {"size": "independent"}}},
 {"width": 209, "height": 125,
  "data": {"name": "vio"},
  "encoding": {"x": {"field": "g", "type": "nominal", "title": null, "scale": {"type": "band", "domain": ["WT","D434G"], "range": [53, 175], "paddingInner": 0.3, "paddingOuter": 0.39}, "axis": {"labelAngle": 0}}},
  "layer": [
   {"transform": [{"filter": "datum.p=='E2' && datum.g=='WT'"}, {"density": "v", "groupby": ["g"], "bandwidth": 0.5, "as": ["v","d"]}], "mark": {"type": "trail", "opacity": 1},
    "encoding": {"y": {"field": "v", "type": "quantitative", "title": "Counts/Bout (x10³)", "scale": {"domain": [0,15], "nice": false}, "axis": {"values": [0,5,10,15], "offset": -53}}, "size": {"field": "d", "type": "quantitative", "scale": {"zero": true, "range": [2.6,38.6]}, "legend": null}, "color": {"field": "g", "type": "nominal", "scale": {"domain": ["WT","D434G"], "range": ["#000000","#3d4db7"]}, "legend": null}, "order": {"field": "v", "type": "quantitative"}}},
   {"transform": [{"filter": "datum.p=='E2' && datum.g=='WT'"}, {"density": "v", "groupby": ["g"], "bandwidth": 0.5, "as": ["v","d"]}], "mark": {"type": "trail", "color": "#ffffff", "opacity": 1},
    "encoding": {"y": {"field": "v", "type": "quantitative", "title": "Counts/Bout (x10³)"}, "size": {"field": "d", "type": "quantitative", "scale": {"zero": true, "range": [0,36]}, "legend": null}, "order": {"field": "v", "type": "quantitative"}}},
   {"transform": [{"filter": "datum.p=='E2' && datum.g=='D434G'"}, {"density": "v", "groupby": ["g"], "bandwidth": 0.5, "as": ["v","d"]}], "mark": {"type": "trail", "opacity": 1},
    "encoding": {"y": {"field": "v", "type": "quantitative", "title": "Counts/Bout (x10³)"}, "size": {"field": "d", "type": "quantitative", "scale": {"zero": true, "range": [2.6,38.6]}, "legend": null}, "color": {"field": "g", "type": "nominal", "legend": null}, "order": {"field": "v", "type": "quantitative"}}},
   {"transform": [{"filter": "datum.p=='E2' && datum.g=='D434G'"}, {"density": "v", "groupby": ["g"], "bandwidth": 0.5, "as": ["v","d"]}], "mark": {"type": "trail", "color": "#ffffff", "opacity": 1},
    "encoding": {"y": {"field": "v", "type": "quantitative", "title": "Counts/Bout (x10³)"}, "size": {"field": "d", "type": "quantitative", "scale": {"zero": true, "range": [0,36]}, "legend": null}, "order": {"field": "v", "type": "quantitative"}}},
   {"transform": [{"filter": "datum.p=='E2'"}, {"aggregate": [{"op": "q1", "field": "v", "as": "a"}, {"op": "q3", "field": "v", "as": "b"}], "groupby": ["g"]}, {"fold": ["a","b"], "as": ["k","v"]}], "mark": {"type": "rule", "strokeWidth": 1.2, "strokeDash": [4,3]},
    "encoding": {"x": {"field": "g", "type": "nominal", "title": null, "bandPosition": 0.12}, "x2": {"field": "g", "bandPosition": 0.88}, "y": {"field": "v", "type": "quantitative", "title": "Counts/Bout (x10³)"}, "color": {"field": "g", "type": "nominal", "legend": null}}},
   {"transform": [{"filter": "datum.p=='E2'"}, {"aggregate": [{"op": "median", "field": "v", "as": "v"}], "groupby": ["g"]}], "mark": {"type": "rule", "strokeWidth": 1.3},
    "encoding": {"x": {"field": "g", "type": "nominal", "title": null, "bandPosition": 0.08}, "x2": {"field": "g", "bandPosition": 0.92}, "y": {"field": "v", "type": "quantitative", "title": "Counts/Bout (x10³)"}, "color": {"field": "g", "type": "nominal", "legend": null}}},
   {"transform": [{"filter": "datum.p=='E2'"}], "mark": {"type": "circle", "size": 40, "opacity": 1},
    "encoding": {"y": {"field": "v", "type": "quantitative", "title": "Counts/Bout (x10³)"}, "xOffset": {"field": "j", "type": "quantitative", "scale": {"domain": [-2.5,2.5], "nice": false, "zero": false}}, "color": {"field": "g", "type": "nominal", "legend": null}}},
   {"data": {"name": "br"}, "transform": [{"filter": "datum.p=='E2'"}], "mark": {"type": "line", "color": "#333333", "strokeWidth": 1},
    "encoding": {"y": {"field": "y", "type": "quantitative", "title": "Counts/Bout (x10³)"}, "order": {"field": "o", "type": "quantitative"}}},
   {"data": {"name": "br"}, "transform": [{"filter": "datum.p=='E2' && datum.o==1"}], "mark": {"type": "text", "text": "*", "fontSize": 16, "dx": 24.6, "dy": -1, "baseline": "alphabetic", "color": "#333333"},
    "encoding": {"y": {"field": "y", "type": "quantitative", "title": "Counts/Bout (x10³)"}}}
  ],
  "resolve": {"scale": {"size": "independent"}}},
 {"width": 190, "height": 125,
  "data": {"name": "vio"},
  "encoding": {"x": {"field": "g", "type": "nominal", "title": null, "scale": {"type": "band", "domain": ["WT","H444Q"], "range": [39, 161], "paddingInner": 0.3, "paddingOuter": 0.39}, "axis": {"labelAngle": 0}}},
  "layer": [
   {"transform": [{"filter": "datum.p=='E3' && datum.g=='WT'"}, {"density": "v", "groupby": ["g"], "bandwidth": 0.5, "as": ["v","d"]}], "mark": {"type": "trail", "opacity": 1},
    "encoding": {"y": {"field": "v", "type": "quantitative", "title": "Counts/Bout (x10³)", "scale": {"domain": [0,15], "nice": false}, "axis": {"values": [0,5,10,15], "offset": -39}}, "size": {"field": "d", "type": "quantitative", "scale": {"zero": true, "range": [2.6,38.6]}, "legend": null}, "color": {"field": "g", "type": "nominal", "scale": {"domain": ["WT","H444Q"], "range": ["#000000","#7e3a9e"]}, "legend": null}, "order": {"field": "v", "type": "quantitative"}}},
   {"transform": [{"filter": "datum.p=='E3' && datum.g=='WT'"}, {"density": "v", "groupby": ["g"], "bandwidth": 0.5, "as": ["v","d"]}], "mark": {"type": "trail", "color": "#ffffff", "opacity": 1},
    "encoding": {"y": {"field": "v", "type": "quantitative", "title": "Counts/Bout (x10³)"}, "size": {"field": "d", "type": "quantitative", "scale": {"zero": true, "range": [0,36]}, "legend": null}, "order": {"field": "v", "type": "quantitative"}}},
   {"transform": [{"filter": "datum.p=='E3' && datum.g=='H444Q'"}, {"density": "v", "groupby": ["g"], "bandwidth": 0.5, "as": ["v","d"]}], "mark": {"type": "trail", "opacity": 1},
    "encoding": {"y": {"field": "v", "type": "quantitative", "title": "Counts/Bout (x10³)"}, "size": {"field": "d", "type": "quantitative", "scale": {"zero": true, "range": [2.6,38.6]}, "legend": null}, "color": {"field": "g", "type": "nominal", "legend": null}, "order": {"field": "v", "type": "quantitative"}}},
   {"transform": [{"filter": "datum.p=='E3' && datum.g=='H444Q'"}, {"density": "v", "groupby": ["g"], "bandwidth": 0.5, "as": ["v","d"]}], "mark": {"type": "trail", "color": "#ffffff", "opacity": 1},
    "encoding": {"y": {"field": "v", "type": "quantitative", "title": "Counts/Bout (x10³)"}, "size": {"field": "d", "type": "quantitative", "scale": {"zero": true, "range": [0,36]}, "legend": null}, "order": {"field": "v", "type": "quantitative"}}},
   {"transform": [{"filter": "datum.p=='E3'"}, {"aggregate": [{"op": "q1", "field": "v", "as": "a"}, {"op": "q3", "field": "v", "as": "b"}], "groupby": ["g"]}, {"fold": ["a","b"], "as": ["k","v"]}], "mark": {"type": "rule", "strokeWidth": 1.2, "strokeDash": [4,3]},
    "encoding": {"x": {"field": "g", "type": "nominal", "title": null, "bandPosition": 0.12}, "x2": {"field": "g", "bandPosition": 0.88}, "y": {"field": "v", "type": "quantitative", "title": "Counts/Bout (x10³)"}, "color": {"field": "g", "type": "nominal", "legend": null}}},
   {"transform": [{"filter": "datum.p=='E3'"}, {"aggregate": [{"op": "median", "field": "v", "as": "v"}], "groupby": ["g"]}], "mark": {"type": "rule", "strokeWidth": 1.3},
    "encoding": {"x": {"field": "g", "type": "nominal", "title": null, "bandPosition": 0.08}, "x2": {"field": "g", "bandPosition": 0.92}, "y": {"field": "v", "type": "quantitative", "title": "Counts/Bout (x10³)"}, "color": {"field": "g", "type": "nominal", "legend": null}}},
   {"transform": [{"filter": "datum.p=='E3'"}], "mark": {"type": "circle", "size": 40, "opacity": 1},
    "encoding": {"y": {"field": "v", "type": "quantitative", "title": "Counts/Bout (x10³)"}, "xOffset": {"field": "j", "type": "quantitative", "scale": {"domain": [-2.5,2.5], "nice": false, "zero": false}}, "color": {"field": "g", "type": "nominal", "legend": null}}}
  ],
  "resolve": {"scale": {"size": "independent"}}}
],
"columns": 3, "bounds": "flush", "spacing": {"row": 38, "column": 54},
"resolve": {"scale": {"color": "independent", "size": "independent", "xOffset": "independent"}}
}
